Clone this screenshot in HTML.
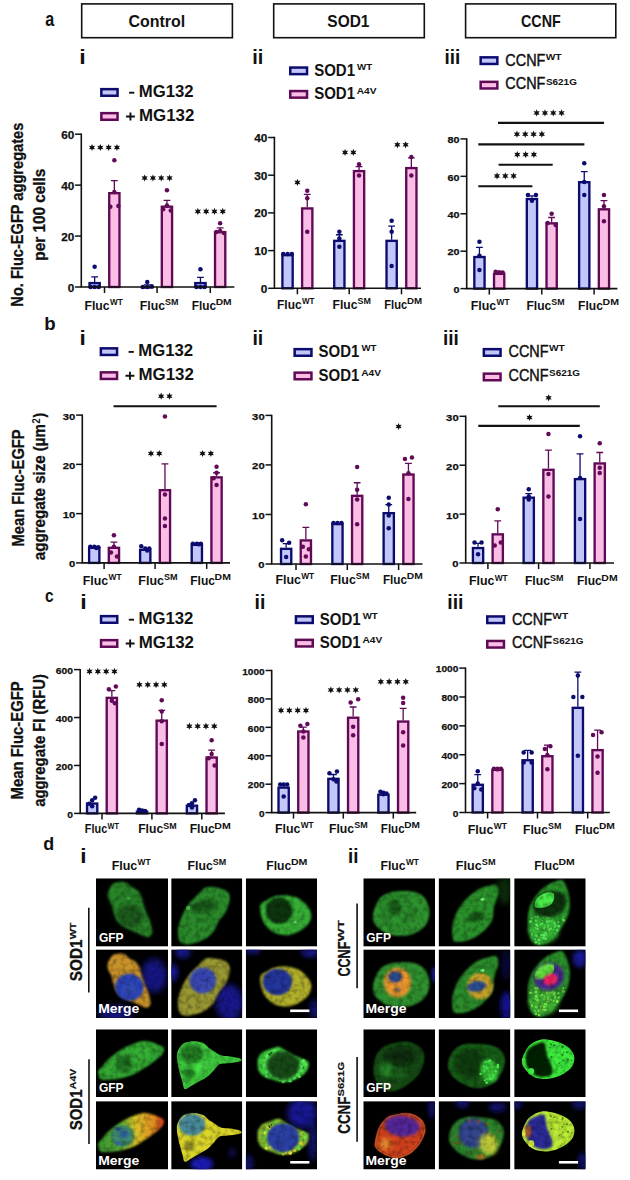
<!DOCTYPE html>
<html><head><meta charset="utf-8"><title>Figure</title>
<style>
html,body{margin:0;padding:0;background:#fff;}
body{width:630px;height:1180px;overflow:hidden;}
svg{display:block;font-family:"Liberation Sans", sans-serif;}
</style></head><body>
<svg width="630" height="1180" viewBox="0 0 630 1180">
<defs><filter id="b05" x="-50%" y="-50%" width="200%" height="200%"><feGaussianBlur stdDeviation="0.5"/></filter><filter id="b06" x="-50%" y="-50%" width="200%" height="200%"><feGaussianBlur stdDeviation="0.6"/></filter><filter id="b07" x="-50%" y="-50%" width="200%" height="200%"><feGaussianBlur stdDeviation="0.7"/></filter><filter id="b08" x="-50%" y="-50%" width="200%" height="200%"><feGaussianBlur stdDeviation="0.8"/></filter><filter id="b09" x="-50%" y="-50%" width="200%" height="200%"><feGaussianBlur stdDeviation="0.9"/></filter><filter id="b10" x="-50%" y="-50%" width="200%" height="200%"><feGaussianBlur stdDeviation="1"/></filter><filter id="b11" x="-50%" y="-50%" width="200%" height="200%"><feGaussianBlur stdDeviation="1.1"/></filter><filter id="b12" x="-50%" y="-50%" width="200%" height="200%"><feGaussianBlur stdDeviation="1.2"/></filter><filter id="b13" x="-50%" y="-50%" width="200%" height="200%"><feGaussianBlur stdDeviation="1.3"/></filter><filter id="b14" x="-50%" y="-50%" width="200%" height="200%"><feGaussianBlur stdDeviation="1.4"/></filter><filter id="b15" x="-50%" y="-50%" width="200%" height="200%"><feGaussianBlur stdDeviation="1.5"/></filter><filter id="b16" x="-50%" y="-50%" width="200%" height="200%"><feGaussianBlur stdDeviation="1.6"/></filter><filter id="b18" x="-50%" y="-50%" width="200%" height="200%"><feGaussianBlur stdDeviation="1.8"/></filter><filter id="b20" x="-50%" y="-50%" width="200%" height="200%"><feGaussianBlur stdDeviation="2"/></filter><filter id="b22" x="-50%" y="-50%" width="200%" height="200%"><feGaussianBlur stdDeviation="2.2"/></filter><filter id="b25" x="-50%" y="-50%" width="200%" height="200%"><feGaussianBlur stdDeviation="2.5"/></filter><filter id="b30" x="-50%" y="-50%" width="200%" height="200%"><feGaussianBlur stdDeviation="3"/></filter><linearGradient id="gA4" x1="0" y1="0" x2="1" y2="0"><stop offset="0" stop-color="#3a9a30"/><stop offset="0.35" stop-color="#5aa830"/><stop offset="0.55" stop-color="#d8c828"/><stop offset="0.85" stop-color="#e08a20"/><stop offset="1" stop-color="#e0381a"/></linearGradient><filter id="tex0" x="0" y="0" width="72" height="68.5" filterUnits="userSpaceOnUse" color-interpolation-filters="sRGB"><feTurbulence type="fractalNoise" baseFrequency="0.2" numOctaves="2" seed="3" result="n"/><feColorMatrix in="n" type="matrix" values="0.65 0 0 0 0.6  0.65 0 0 0 0.6  0.65 0 0 0 0.6  0 0 0 0 1" result="m0"/><feGaussianBlur in="m0" stdDeviation="0.45" result="m"/><feComposite in="SourceGraphic" in2="m" operator="arithmetic" k1="1" k2="0" k3="0" k4="0"/></filter><filter id="tex1" x="0" y="0" width="72" height="68.5" filterUnits="userSpaceOnUse" color-interpolation-filters="sRGB"><feTurbulence type="fractalNoise" baseFrequency="0.2" numOctaves="2" seed="10" result="n"/><feColorMatrix in="n" type="matrix" values="0.65 0 0 0 0.6  0.65 0 0 0 0.6  0.65 0 0 0 0.6  0 0 0 0 1" result="m0"/><feGaussianBlur in="m0" stdDeviation="0.45" result="m"/><feComposite in="SourceGraphic" in2="m" operator="arithmetic" k1="1" k2="0" k3="0" k4="0"/></filter><filter id="tex2" x="0" y="0" width="72" height="68.5" filterUnits="userSpaceOnUse" color-interpolation-filters="sRGB"><feTurbulence type="fractalNoise" baseFrequency="0.2" numOctaves="2" seed="17" result="n"/><feColorMatrix in="n" type="matrix" values="0.65 0 0 0 0.6  0.65 0 0 0 0.6  0.65 0 0 0 0.6  0 0 0 0 1" result="m0"/><feGaussianBlur in="m0" stdDeviation="0.45" result="m"/><feComposite in="SourceGraphic" in2="m" operator="arithmetic" k1="1" k2="0" k3="0" k4="0"/></filter><filter id="tex3" x="0" y="0" width="72" height="68.5" filterUnits="userSpaceOnUse" color-interpolation-filters="sRGB"><feTurbulence type="fractalNoise" baseFrequency="0.2" numOctaves="2" seed="24" result="n"/><feColorMatrix in="n" type="matrix" values="0.65 0 0 0 0.6  0.65 0 0 0 0.6  0.65 0 0 0 0.6  0 0 0 0 1" result="m0"/><feGaussianBlur in="m0" stdDeviation="0.45" result="m"/><feComposite in="SourceGraphic" in2="m" operator="arithmetic" k1="1" k2="0" k3="0" k4="0"/></filter></defs>
<rect width="630" height="1180" fill="#ffffff"/>
<rect x="81.7" y="3.9" width="150.7" height="33.8" fill="none" stroke="#111111" stroke-width="1.6"/>
<rect x="273.7" y="3.9" width="150.6" height="33.8" fill="none" stroke="#111111" stroke-width="1.6"/>
<rect x="465.6" y="3.9" width="150.2" height="33.8" fill="none" stroke="#111111" stroke-width="1.6"/>
<text x="128.44" y="26.6" font-size="17" font-weight="bold" fill="#111111" textLength="56.79" lengthAdjust="spacingAndGlyphs">Control</text>
<text x="327.35" y="26.6" font-size="17" font-weight="bold" fill="#111111" textLength="42.08" lengthAdjust="spacingAndGlyphs">SOD1</text>
<text x="521.01" y="26.6" font-size="17" font-weight="bold" fill="#111111" textLength="39.81" lengthAdjust="spacingAndGlyphs">CCNF</text>
<text x="45.23" y="25.9" font-size="19.3" font-weight="bold" fill="#111111" textLength="8.97" lengthAdjust="spacingAndGlyphs">a</text>
<text x="44.27" y="330.1" font-size="18.3" font-weight="bold" fill="#111111" textLength="11.39" lengthAdjust="spacingAndGlyphs">b</text>
<text x="44.89" y="601.7" font-size="18.2" font-weight="bold" fill="#111111" textLength="8.67" lengthAdjust="spacingAndGlyphs">c</text>
<text x="43.37" y="849.8" font-size="18.5" font-weight="bold" fill="#111111" textLength="10.91" lengthAdjust="spacingAndGlyphs">d</text>
<text x="79.37" y="64.2" font-size="20.7" font-weight="bold" fill="#111111" textLength="6.48" lengthAdjust="spacingAndGlyphs">i</text>
<text x="252.2" y="64.1" font-size="20.7" font-weight="bold" fill="#111111" textLength="11.11" lengthAdjust="spacingAndGlyphs">ii</text>
<text x="444.58" y="64.2" font-size="20.7" font-weight="bold" fill="#111111" textLength="15.76" lengthAdjust="spacingAndGlyphs">iii</text>
<text x="79.62" y="345.3" font-size="20.7" font-weight="bold" fill="#111111" textLength="6.28" lengthAdjust="spacingAndGlyphs">i</text>
<text x="252.44" y="345.3" font-size="20.7" font-weight="bold" fill="#111111" textLength="10.84" lengthAdjust="spacingAndGlyphs">ii</text>
<text x="443.08" y="345.3" font-size="20.7" font-weight="bold" fill="#111111" textLength="15.76" lengthAdjust="spacingAndGlyphs">iii</text>
<text x="80.27" y="609.3" font-size="20.7" font-weight="bold" fill="#111111" textLength="6.48" lengthAdjust="spacingAndGlyphs">i</text>
<text x="254.54" y="609.3" font-size="20.7" font-weight="bold" fill="#111111" textLength="10.84" lengthAdjust="spacingAndGlyphs">ii</text>
<text x="447.24" y="609.3" font-size="20.7" font-weight="bold" fill="#111111" textLength="16.24" lengthAdjust="spacingAndGlyphs">iii</text>
<text x="80.32" y="863.4" font-size="20.7" font-weight="bold" fill="#111111" textLength="6.28" lengthAdjust="spacingAndGlyphs">i</text>
<text x="347.99" y="863.4" font-size="20.7" font-weight="bold" fill="#111111" textLength="10.44" lengthAdjust="spacingAndGlyphs">ii</text>
<g transform="translate(0 0)">
<rect x="101.35" y="89.15" width="16.2" height="6.6" fill="#c3c6f8" stroke="#0c0c6e" stroke-width="2.5"/>
<rect x="101.35" y="113.15" width="16.2" height="6.6" fill="#fabde6" stroke="#600a56" stroke-width="2.5"/>
<path d="M129.1 92.7H134.3" stroke="#111111" stroke-width="1.9"/>
<text x="138.78" y="96.7" font-size="16.6" font-weight="bold" fill="#111111" textLength="54.89" lengthAdjust="spacingAndGlyphs">MG132</text>
<path d="M126 116.5H134.9M130.45 112.6V120.5" stroke="#111111" stroke-width="1.9"/>
<text x="138.97" y="121.1" font-size="16.6" font-weight="bold" fill="#111111" textLength="55.3" lengthAdjust="spacingAndGlyphs">MG132</text>
</g>
<g transform="translate(-0.5 259.2)">
<rect x="101.35" y="89.15" width="16.2" height="6.6" fill="#c3c6f8" stroke="#0c0c6e" stroke-width="2.5"/>
<rect x="101.35" y="113.15" width="16.2" height="6.6" fill="#fabde6" stroke="#600a56" stroke-width="2.5"/>
<path d="M129.1 92.7H134.3" stroke="#111111" stroke-width="1.9"/>
<text x="138.78" y="96.7" font-size="16.6" font-weight="bold" fill="#111111" textLength="54.89" lengthAdjust="spacingAndGlyphs">MG132</text>
<path d="M126 116.5H134.9M130.45 112.6V120.5" stroke="#111111" stroke-width="1.9"/>
<text x="138.97" y="121.1" font-size="16.6" font-weight="bold" fill="#111111" textLength="55.3" lengthAdjust="spacingAndGlyphs">MG132</text>
</g>
<g transform="translate(-0.3 527)">
<rect x="101.35" y="89.15" width="16.2" height="6.6" fill="#c3c6f8" stroke="#0c0c6e" stroke-width="2.5"/>
<rect x="101.35" y="113.15" width="16.2" height="6.6" fill="#fabde6" stroke="#600a56" stroke-width="2.5"/>
<path d="M129.1 92.7H134.3" stroke="#111111" stroke-width="1.9"/>
<text x="138.78" y="96.7" font-size="16.6" font-weight="bold" fill="#111111" textLength="54.89" lengthAdjust="spacingAndGlyphs">MG132</text>
<path d="M126 116.5H134.9M130.45 112.6V120.5" stroke="#111111" stroke-width="1.9"/>
<text x="138.97" y="121.1" font-size="16.6" font-weight="bold" fill="#111111" textLength="55.3" lengthAdjust="spacingAndGlyphs">MG132</text>
</g>
<g transform="translate(0 0)">
<rect x="290.25" y="67.55" width="16.8" height="6.6" fill="#c3c6f8" stroke="#0c0c6e" stroke-width="2.5"/>
<rect x="290.25" y="91.05" width="16.8" height="6.6" fill="#fabde6" stroke="#600a56" stroke-width="2.5"/>
<text x="314.17" y="75.9" font-size="16.3" font-weight="bold" fill="#111111" textLength="40.85" lengthAdjust="spacingAndGlyphs">SOD1</text>
<text x="314.17" y="99.4" font-size="16.3" font-weight="bold" fill="#111111" textLength="40.85" lengthAdjust="spacingAndGlyphs">SOD1</text>
<text x="356.99" y="69.8" font-size="9.3" font-weight="bold" fill="#111111" textLength="15.11" lengthAdjust="spacingAndGlyphs">WT</text>
<text x="356.75" y="94" font-size="9.3" font-weight="bold" fill="#111111" textLength="19.82" lengthAdjust="spacingAndGlyphs">A4V</text>
</g>
<g transform="translate(4.4 281.6)">
<rect x="290.25" y="67.55" width="16.8" height="6.6" fill="#c3c6f8" stroke="#0c0c6e" stroke-width="2.5"/>
<rect x="290.25" y="91.05" width="16.8" height="6.6" fill="#fabde6" stroke="#600a56" stroke-width="2.5"/>
<text x="314.17" y="75.9" font-size="16.3" font-weight="bold" fill="#111111" textLength="40.85" lengthAdjust="spacingAndGlyphs">SOD1</text>
<text x="314.17" y="99.4" font-size="16.3" font-weight="bold" fill="#111111" textLength="40.85" lengthAdjust="spacingAndGlyphs">SOD1</text>
<text x="356.99" y="69.8" font-size="9.3" font-weight="bold" fill="#111111" textLength="15.11" lengthAdjust="spacingAndGlyphs">WT</text>
<text x="356.75" y="94" font-size="9.3" font-weight="bold" fill="#111111" textLength="19.82" lengthAdjust="spacingAndGlyphs">A4V</text>
</g>
<g transform="translate(5.7 548.8)">
<rect x="290.25" y="67.55" width="16.8" height="6.6" fill="#c3c6f8" stroke="#0c0c6e" stroke-width="2.5"/>
<rect x="290.25" y="91.05" width="16.8" height="6.6" fill="#fabde6" stroke="#600a56" stroke-width="2.5"/>
<text x="314.17" y="75.9" font-size="16.3" font-weight="bold" fill="#111111" textLength="40.85" lengthAdjust="spacingAndGlyphs">SOD1</text>
<text x="314.17" y="99.4" font-size="16.3" font-weight="bold" fill="#111111" textLength="40.85" lengthAdjust="spacingAndGlyphs">SOD1</text>
<text x="356.99" y="69.8" font-size="9.3" font-weight="bold" fill="#111111" textLength="15.11" lengthAdjust="spacingAndGlyphs">WT</text>
<text x="356.75" y="94" font-size="9.3" font-weight="bold" fill="#111111" textLength="19.82" lengthAdjust="spacingAndGlyphs">A4V</text>
</g>
<g transform="translate(0 0)">
<rect x="480.65" y="57.35" width="16.7" height="6.6" fill="#c3c6f8" stroke="#0c0c6e" stroke-width="2.5"/>
<rect x="480.65" y="81.85" width="16.7" height="6.6" fill="#fabde6" stroke="#600a56" stroke-width="2.5"/>
<text x="505.37" y="65.7" font-size="16.3" font-weight="normal" fill="#111111" textLength="40.01" lengthAdjust="spacingAndGlyphs" stroke="#111" stroke-width="0.45">CCNF</text>
<text x="505.37" y="89.3" font-size="16.3" font-weight="normal" fill="#111111" textLength="40.01" lengthAdjust="spacingAndGlyphs" stroke="#111" stroke-width="0.45">CCNF</text>
<text x="545.69" y="59.6" font-size="9.3" font-weight="bold" fill="#111111" textLength="15.82" lengthAdjust="spacingAndGlyphs">WT</text>
<text x="545.91" y="84.6" font-size="9.3" font-weight="bold" fill="#111111" textLength="31" lengthAdjust="spacingAndGlyphs">S621G</text>
</g>
<g transform="translate(3.2 291.8)">
<rect x="480.65" y="57.35" width="16.7" height="6.6" fill="#c3c6f8" stroke="#0c0c6e" stroke-width="2.5"/>
<rect x="480.65" y="81.85" width="16.7" height="6.6" fill="#fabde6" stroke="#600a56" stroke-width="2.5"/>
<text x="505.37" y="65.7" font-size="16.3" font-weight="normal" fill="#111111" textLength="40.01" lengthAdjust="spacingAndGlyphs" stroke="#111" stroke-width="0.45">CCNF</text>
<text x="505.37" y="89.3" font-size="16.3" font-weight="normal" fill="#111111" textLength="40.01" lengthAdjust="spacingAndGlyphs" stroke="#111" stroke-width="0.45">CCNF</text>
<text x="545.69" y="59.6" font-size="9.3" font-weight="bold" fill="#111111" textLength="15.82" lengthAdjust="spacingAndGlyphs">WT</text>
<text x="545.91" y="84.6" font-size="9.3" font-weight="bold" fill="#111111" textLength="31" lengthAdjust="spacingAndGlyphs">S621G</text>
</g>
<g transform="translate(6.6 559.1)">
<rect x="480.65" y="57.35" width="16.7" height="6.6" fill="#c3c6f8" stroke="#0c0c6e" stroke-width="2.5"/>
<rect x="480.65" y="81.85" width="16.7" height="6.6" fill="#fabde6" stroke="#600a56" stroke-width="2.5"/>
<text x="505.37" y="65.7" font-size="16.3" font-weight="normal" fill="#111111" textLength="40.01" lengthAdjust="spacingAndGlyphs" stroke="#111" stroke-width="0.45">CCNF</text>
<text x="505.37" y="89.3" font-size="16.3" font-weight="normal" fill="#111111" textLength="40.01" lengthAdjust="spacingAndGlyphs" stroke="#111" stroke-width="0.45">CCNF</text>
<text x="545.69" y="59.6" font-size="9.3" font-weight="bold" fill="#111111" textLength="15.82" lengthAdjust="spacingAndGlyphs">WT</text>
<text x="545.91" y="84.6" font-size="9.3" font-weight="bold" fill="#111111" textLength="31" lengthAdjust="spacingAndGlyphs">S621G</text>
</g>
<g transform="translate(23.1 0) rotate(-90)">
<text x="-306.68" y="0" font-size="16.7" font-weight="bold" fill="#111111" textLength="183.97" lengthAdjust="spacingAndGlyphs" stroke="#111" stroke-width="0.3">No. Fluc-EGFP aggregates</text>
</g>
<g transform="translate(45 0) rotate(-90)">
<text x="-260.71" y="0" font-size="16" font-weight="bold" fill="#111111" textLength="92.04" lengthAdjust="spacingAndGlyphs" stroke="#111" stroke-width="0.3">per 100 cells</text>
</g>
<g transform="translate(24 0) rotate(-90)">
<text x="-546.49" y="0" font-size="16.7" font-weight="bold" fill="#111111" textLength="117.19" lengthAdjust="spacingAndGlyphs" stroke="#111" stroke-width="0.3">Mean Fluc-EGFP</text>
</g>
<g transform="translate(45.4 0) rotate(-90)">
<text x="-560.14" y="0" font-size="16" font-weight="bold" fill="#111111" textLength="136.08" lengthAdjust="spacingAndGlyphs" stroke="#111" stroke-width="0.3">aggregate size (µm</text>
<text x="-423.42" y="-5.5" font-size="10.2" font-weight="bold" fill="#111111" textLength="5.2" lengthAdjust="spacingAndGlyphs">2</text>
<text x="-417.61" y="0" font-size="16" font-weight="bold" fill="#111111" textLength="4.72" lengthAdjust="spacingAndGlyphs" stroke="#111" stroke-width="0.3">)</text>
</g>
<g transform="translate(23.1 0) rotate(-90)">
<text x="-799.39" y="0" font-size="16.7" font-weight="bold" fill="#111111" textLength="118.1" lengthAdjust="spacingAndGlyphs" stroke="#111" stroke-width="0.3">Mean Fluc-EGFP</text>
</g>
<g transform="translate(45.4 0) rotate(-90)">
<text x="-806.84" y="0" font-size="16" font-weight="bold" fill="#111111" textLength="132.88" lengthAdjust="spacingAndGlyphs" stroke="#111" stroke-width="0.3">aggregate FI (RFU)</text>
</g>
<path d="M94.65 281.91V276.81M91.25 276.81H98.05" stroke="#0c0c6e" stroke-width="1.3"/>
<rect x="89.53" y="283.08" width="10.25" height="3.92" fill="#c3c6f8" stroke="#0c0c6e" stroke-width="2.35"/>
<circle cx="94.65" cy="266.63" r="2.25" fill="#0c0c70"/>
<circle cx="90.65" cy="287" r="2.25" fill="#0c0c70"/>
<circle cx="94.65" cy="287" r="2.25" fill="#0c0c70"/>
<circle cx="98.65" cy="287" r="2.25" fill="#0c0c70"/>
<path d="M114.35 192.01V180.55M110.95 180.55H117.75" stroke="#600a56" stroke-width="1.3"/>
<rect x="109.22" y="193.18" width="10.25" height="93.82" fill="#fabde6" stroke="#600a56" stroke-width="2.35"/>
<circle cx="114.35" cy="160.18" r="2.25" fill="#620a58"/>
<circle cx="114.35" cy="192.01" r="2.25" fill="#620a58"/>
<circle cx="110.35" cy="206.78" r="2.25" fill="#620a58"/>
<circle cx="118.35" cy="206.02" r="2.25" fill="#620a58"/>
<path d="M147.25 286.24V284.96M143.85 284.96H150.65" stroke="#0c0c6e" stroke-width="1.3"/>
<rect x="142.12" y="287.41" width="10.25" height="0.1" fill="#c3c6f8" stroke="#0c0c6e" stroke-width="2.35"/>
<circle cx="147.25" cy="281.91" r="2.25" fill="#0c0c70"/>
<circle cx="142.75" cy="287" r="2.25" fill="#0c0c70"/>
<circle cx="147.25" cy="287" r="2.25" fill="#0c0c70"/>
<circle cx="151.75" cy="286.24" r="2.25" fill="#0c0c70"/>
<path d="M166.95 205.51V200.41M163.55 200.41H170.35" stroke="#600a56" stroke-width="1.3"/>
<rect x="161.82" y="206.68" width="10.25" height="80.32" fill="#fabde6" stroke="#600a56" stroke-width="2.35"/>
<circle cx="166.95" cy="190.23" r="2.25" fill="#620a58"/>
<circle cx="166.95" cy="205.51" r="2.25" fill="#620a58"/>
<circle cx="163.15" cy="209.33" r="2.25" fill="#620a58"/>
<circle cx="170.75" cy="210.6" r="2.25" fill="#620a58"/>
<path d="M200.45 281.91V277.32M197.05 277.32H203.85" stroke="#0c0c6e" stroke-width="1.3"/>
<rect x="195.33" y="283.08" width="10.25" height="3.92" fill="#c3c6f8" stroke="#0c0c6e" stroke-width="2.35"/>
<circle cx="200.45" cy="269.17" r="2.25" fill="#0c0c70"/>
<circle cx="196.45" cy="287" r="2.25" fill="#0c0c70"/>
<circle cx="200.45" cy="287" r="2.25" fill="#0c0c70"/>
<circle cx="204.45" cy="287" r="2.25" fill="#0c0c70"/>
<path d="M220.15 230.97V227.92M216.75 227.92H223.55" stroke="#600a56" stroke-width="1.3"/>
<rect x="215.03" y="232.15" width="10.25" height="54.85" fill="#fabde6" stroke="#600a56" stroke-width="2.35"/>
<circle cx="220.15" cy="223.33" r="2.25" fill="#620a58"/>
<circle cx="220.15" cy="230.97" r="2.25" fill="#620a58"/>
<circle cx="216.35" cy="231.99" r="2.25" fill="#620a58"/>
<circle cx="223.95" cy="233.01" r="2.25" fill="#620a58"/>
<path d="M81.3 133.5V287H234.4" stroke="#111111" stroke-width="1.6" fill="none"/>
<path d="M75.1 287H81.3" stroke="#111111" stroke-width="1.5"/>
<text x="67.76" y="291.55" font-size="10.2" font-weight="bold" fill="#111111" textLength="6.52" lengthAdjust="spacingAndGlyphs" stroke="#111" stroke-width="0.25">0</text>
<path d="M75.1 236.07H81.3" stroke="#111111" stroke-width="1.5"/>
<text x="61.23" y="240.62" font-size="10.2" font-weight="bold" fill="#111111" textLength="13.05" lengthAdjust="spacingAndGlyphs" stroke="#111" stroke-width="0.25">20</text>
<path d="M75.1 185.13H81.3" stroke="#111111" stroke-width="1.5"/>
<text x="61.23" y="189.68" font-size="10.2" font-weight="bold" fill="#111111" textLength="13.05" lengthAdjust="spacingAndGlyphs" stroke="#111" stroke-width="0.25">40</text>
<path d="M75.1 134.2H81.3" stroke="#111111" stroke-width="1.5"/>
<text x="61.23" y="138.75" font-size="10.2" font-weight="bold" fill="#111111" textLength="13.05" lengthAdjust="spacingAndGlyphs" stroke="#111" stroke-width="0.25">60</text>
<path d="M104.5 287V293" stroke="#111111" stroke-width="1.5"/>
<path d="M157.1 287V293" stroke="#111111" stroke-width="1.5"/>
<path d="M210.3 287V293" stroke="#111111" stroke-width="1.5"/>
<polygon points="92.05,143.9 91.17,145.98 88.93,145.7 90.3,147.5 88.93,149.3 91.17,149.02 92.05,151.1 92.92,149.02 95.17,149.3 93.8,147.5 95.17,145.7 92.92,145.98" fill="#111111"/>
<polygon points="100.35,143.9 99.47,145.98 97.23,145.7 98.6,147.5 97.23,149.3 99.47,149.02 100.35,151.1 101.22,149.02 103.47,149.3 102.1,147.5 103.47,145.7 101.22,145.98" fill="#111111"/>
<polygon points="108.65,143.9 107.78,145.98 105.53,145.7 106.9,147.5 105.53,149.3 107.78,149.02 108.65,151.1 109.53,149.02 111.77,149.3 110.4,147.5 111.77,145.7 109.53,145.98" fill="#111111"/>
<polygon points="116.95,143.9 116.08,145.98 113.83,145.7 115.2,147.5 113.83,149.3 116.08,149.02 116.95,151.1 117.83,149.02 120.07,149.3 118.7,147.5 120.07,145.7 117.83,145.98" fill="#111111"/>
<polygon points="144.65,174.4 143.78,176.48 141.53,176.2 142.9,178 141.53,179.8 143.78,179.52 144.65,181.6 145.53,179.52 147.77,179.8 146.4,178 147.77,176.2 145.53,176.48" fill="#111111"/>
<polygon points="152.95,174.4 152.08,176.48 149.83,176.2 151.2,178 149.83,179.8 152.08,179.52 152.95,181.6 153.83,179.52 156.07,179.8 154.7,178 156.07,176.2 153.83,176.48" fill="#111111"/>
<polygon points="161.25,174.4 160.38,176.48 158.13,176.2 159.5,178 158.13,179.8 160.38,179.52 161.25,181.6 162.12,179.52 164.37,179.8 163,178 164.37,176.2 162.12,176.48" fill="#111111"/>
<polygon points="169.55,174.4 168.68,176.48 166.43,176.2 167.8,178 166.43,179.8 168.68,179.52 169.55,181.6 170.43,179.52 172.67,179.8 171.3,178 172.67,176.2 170.43,176.48" fill="#111111"/>
<polygon points="197.85,207.8 196.98,209.88 194.73,209.6 196.1,211.4 194.73,213.2 196.98,212.92 197.85,215 198.73,212.92 200.97,213.2 199.6,211.4 200.97,209.6 198.73,209.88" fill="#111111"/>
<polygon points="206.15,207.8 205.28,209.88 203.03,209.6 204.4,211.4 203.03,213.2 205.28,212.92 206.15,215 207.03,212.92 209.27,213.2 207.9,211.4 209.27,209.6 207.03,209.88" fill="#111111"/>
<polygon points="214.45,207.8 213.58,209.88 211.33,209.6 212.7,211.4 211.33,213.2 213.58,212.92 214.45,215 215.33,212.92 217.57,213.2 216.2,211.4 217.57,209.6 215.33,209.88" fill="#111111"/>
<polygon points="222.75,207.8 221.88,209.88 219.63,209.6 221,211.4 219.63,213.2 221.88,212.92 222.75,215 223.63,212.92 225.87,213.2 224.5,211.4 225.87,209.6 223.63,209.88" fill="#111111"/>
<text x="84.48" y="309.7" font-size="13.2" font-weight="bold" fill="#111111" textLength="25.08" lengthAdjust="spacingAndGlyphs">Fluc</text>
<text x="109.89" y="305.1" font-size="8.4" font-weight="bold" fill="#111111" textLength="12.79" lengthAdjust="spacingAndGlyphs">WT</text>
<text x="139.78" y="309.7" font-size="13.2" font-weight="bold" fill="#111111" textLength="25.18" lengthAdjust="spacingAndGlyphs">Fluc</text>
<text x="165.04" y="305.1" font-size="8.4" font-weight="bold" fill="#111111" textLength="13.46" lengthAdjust="spacingAndGlyphs">SM</text>
<text x="191.71" y="309.7" font-size="13.2" font-weight="bold" fill="#111111" textLength="24.29" lengthAdjust="spacingAndGlyphs">Fluc</text>
<text x="215.67" y="305.1" font-size="8.4" font-weight="bold" fill="#111111" textLength="16.02" lengthAdjust="spacingAndGlyphs">DM</text>
<rect x="282.42" y="255.17" width="10.25" height="33.13" fill="#c3c6f8" stroke="#0c0c6e" stroke-width="2.35"/>
<circle cx="283.25" cy="253.99" r="2.25" fill="#0c0c70"/>
<circle cx="287.55" cy="253.99" r="2.25" fill="#0c0c70"/>
<circle cx="291.85" cy="253.99" r="2.25" fill="#0c0c70"/>
<path d="M307.25 207.25V194.43M303.85 194.43H310.65" stroke="#600a56" stroke-width="1.3"/>
<rect x="302.12" y="208.42" width="10.25" height="79.88" fill="#fabde6" stroke="#600a56" stroke-width="2.35"/>
<circle cx="307.25" cy="190.66" r="2.25" fill="#620a58"/>
<circle cx="307.25" cy="198.2" r="2.25" fill="#620a58"/>
<circle cx="307.25" cy="231.75" r="2.25" fill="#620a58"/>
<path d="M339.35 239.67V234.77M335.95 234.77H342.75" stroke="#0c0c6e" stroke-width="1.3"/>
<rect x="334.22" y="240.84" width="10.25" height="47.46" fill="#c3c6f8" stroke="#0c0c6e" stroke-width="2.35"/>
<circle cx="339.35" cy="231.75" r="2.25" fill="#0c0c70"/>
<circle cx="339.35" cy="238.54" r="2.25" fill="#0c0c70"/>
<circle cx="339.35" cy="246.83" r="2.25" fill="#0c0c70"/>
<path d="M359.05 169.92V166.53M355.65 166.53H362.45" stroke="#600a56" stroke-width="1.3"/>
<rect x="353.93" y="171.1" width="10.25" height="117.2" fill="#fabde6" stroke="#600a56" stroke-width="2.35"/>
<circle cx="359.05" cy="164.27" r="2.25" fill="#620a58"/>
<circle cx="359.05" cy="175.58" r="2.25" fill="#620a58"/>
<path d="M391.65 239.67V226.09M388.25 226.09H395.05" stroke="#0c0c6e" stroke-width="1.3"/>
<rect x="386.52" y="240.84" width="10.25" height="47.46" fill="#c3c6f8" stroke="#0c0c6e" stroke-width="2.35"/>
<circle cx="391.65" cy="220.82" r="2.25" fill="#0c0c70"/>
<circle cx="391.65" cy="231.75" r="2.25" fill="#0c0c70"/>
<circle cx="391.65" cy="266.06" r="2.25" fill="#0c0c70"/>
<path d="M411.35 166.91V157.86M407.95 157.86H414.75" stroke="#600a56" stroke-width="1.3"/>
<rect x="406.23" y="168.08" width="10.25" height="120.22" fill="#fabde6" stroke="#600a56" stroke-width="2.35"/>
<circle cx="411.35" cy="157.1" r="2.25" fill="#620a58"/>
<circle cx="411.35" cy="175.58" r="2.25" fill="#620a58"/>
<path d="M274.4 136.8V288.3H421" stroke="#111111" stroke-width="1.6" fill="none"/>
<path d="M268.2 288.3H274.4" stroke="#111111" stroke-width="1.5"/>
<text x="260.82" y="292.78" font-size="10" font-weight="bold" fill="#111111" textLength="6.56" lengthAdjust="spacingAndGlyphs" stroke="#111" stroke-width="0.25">0</text>
<path d="M268.2 250.6H274.4" stroke="#111111" stroke-width="1.5"/>
<text x="254.26" y="255.08" font-size="10" font-weight="bold" fill="#111111" textLength="13.13" lengthAdjust="spacingAndGlyphs" stroke="#111" stroke-width="0.25">10</text>
<path d="M268.2 212.9H274.4" stroke="#111111" stroke-width="1.5"/>
<text x="254.26" y="217.38" font-size="10" font-weight="bold" fill="#111111" textLength="13.13" lengthAdjust="spacingAndGlyphs" stroke="#111" stroke-width="0.25">20</text>
<path d="M268.2 175.2H274.4" stroke="#111111" stroke-width="1.5"/>
<text x="254.26" y="179.68" font-size="10" font-weight="bold" fill="#111111" textLength="13.13" lengthAdjust="spacingAndGlyphs" stroke="#111" stroke-width="0.25">30</text>
<path d="M268.2 137.5H274.4" stroke="#111111" stroke-width="1.5"/>
<text x="254.26" y="141.98" font-size="10" font-weight="bold" fill="#111111" textLength="13.13" lengthAdjust="spacingAndGlyphs" stroke="#111" stroke-width="0.25">40</text>
<path d="M297.4 288.3V294.3" stroke="#111111" stroke-width="1.5"/>
<path d="M349.2 288.3V294.3" stroke="#111111" stroke-width="1.5"/>
<path d="M401.5 288.3V294.3" stroke="#111111" stroke-width="1.5"/>
<polygon points="297.4,178.8 296.52,180.88 294.28,180.6 295.65,182.4 294.28,184.2 296.52,183.92 297.4,186 298.27,183.92 300.52,184.2 299.15,182.4 300.52,180.6 298.27,180.88" fill="#111111"/>
<polygon points="345.05,148.8 344.18,150.88 341.93,150.6 343.3,152.4 341.93,154.2 344.18,153.92 345.05,156 345.93,153.92 348.17,154.2 346.8,152.4 348.17,150.6 345.93,150.88" fill="#111111"/>
<polygon points="353.35,148.8 352.48,150.88 350.23,150.6 351.6,152.4 350.23,154.2 352.48,153.92 353.35,156 354.23,153.92 356.47,154.2 355.1,152.4 356.47,150.6 354.23,150.88" fill="#111111"/>
<polygon points="397.35,141.2 396.48,143.28 394.23,143 395.6,144.8 394.23,146.6 396.48,146.32 397.35,148.4 398.23,146.32 400.47,146.6 399.1,144.8 400.47,143 398.23,143.28" fill="#111111"/>
<polygon points="405.65,141.2 404.78,143.28 402.53,143 403.9,144.8 402.53,146.6 404.78,146.32 405.65,148.4 406.53,146.32 408.77,146.6 407.4,144.8 408.77,143 406.53,143.28" fill="#111111"/>
<text x="277.1" y="309" font-size="13.2" font-weight="bold" fill="#111111" textLength="24.45" lengthAdjust="spacingAndGlyphs">Fluc</text>
<text x="301.9" y="304.4" font-size="8.4" font-weight="bold" fill="#111111" textLength="12.49" lengthAdjust="spacingAndGlyphs">WT</text>
<text x="332.49" y="309" font-size="13.2" font-weight="bold" fill="#111111" textLength="24.9" lengthAdjust="spacingAndGlyphs">Fluc</text>
<text x="357.48" y="304.4" font-size="8.4" font-weight="bold" fill="#111111" textLength="13.31" lengthAdjust="spacingAndGlyphs">SM</text>
<text x="384.25" y="309" font-size="13.2" font-weight="bold" fill="#111111" textLength="22.93" lengthAdjust="spacingAndGlyphs">Fluc</text>
<text x="406.9" y="304.4" font-size="8.4" font-weight="bold" fill="#111111" textLength="15.15" lengthAdjust="spacingAndGlyphs">DM</text>
<path d="M479.45 255.85V247.43M476.05 247.43H482.85" stroke="#0c0c6e" stroke-width="1.3"/>
<rect x="474.32" y="257.03" width="10.25" height="31.57" fill="#c3c6f8" stroke="#0c0c6e" stroke-width="2.35"/>
<circle cx="479.45" cy="241.82" r="2.25" fill="#0c0c70"/>
<circle cx="479.45" cy="255.85" r="2.25" fill="#0c0c70"/>
<circle cx="479.45" cy="269.89" r="2.25" fill="#0c0c70"/>
<rect x="494.03" y="273.87" width="10.25" height="14.73" fill="#fabde6" stroke="#600a56" stroke-width="2.35"/>
<circle cx="495.65" cy="271.76" r="2.25" fill="#620a58"/>
<circle cx="499.15" cy="272.32" r="2.25" fill="#620a58"/>
<circle cx="502.65" cy="272.51" r="2.25" fill="#620a58"/>
<path d="M531.95 197.84V195.97M528.55 195.97H535.35" stroke="#0c0c6e" stroke-width="1.3"/>
<rect x="526.82" y="199.02" width="10.25" height="89.58" fill="#c3c6f8" stroke="#0c0c6e" stroke-width="2.35"/>
<circle cx="527.95" cy="195.04" r="2.25" fill="#0c0c70"/>
<circle cx="535.95" cy="195.04" r="2.25" fill="#0c0c70"/>
<circle cx="531.95" cy="200.65" r="2.25" fill="#0c0c70"/>
<path d="M551.65 222.17V217.49M548.25 217.49H555.05" stroke="#600a56" stroke-width="1.3"/>
<rect x="546.52" y="223.35" width="10.25" height="65.25" fill="#fabde6" stroke="#600a56" stroke-width="2.35"/>
<circle cx="551.65" cy="213.75" r="2.25" fill="#620a58"/>
<circle cx="547.65" cy="223.11" r="2.25" fill="#620a58"/>
<circle cx="555.65" cy="224.98" r="2.25" fill="#620a58"/>
<path d="M584.25 181V171.65M580.85 171.65H587.65" stroke="#0c0c6e" stroke-width="1.3"/>
<rect x="579.12" y="182.18" width="10.25" height="106.42" fill="#c3c6f8" stroke="#0c0c6e" stroke-width="2.35"/>
<circle cx="584.25" cy="163.23" r="2.25" fill="#0c0c70"/>
<circle cx="584.25" cy="181.94" r="2.25" fill="#0c0c70"/>
<circle cx="584.25" cy="195.04" r="2.25" fill="#0c0c70"/>
<path d="M603.95 208.14V200.65M600.55 200.65H607.35" stroke="#600a56" stroke-width="1.3"/>
<rect x="598.83" y="209.31" width="10.25" height="79.29" fill="#fabde6" stroke="#600a56" stroke-width="2.35"/>
<circle cx="603.95" cy="195.04" r="2.25" fill="#620a58"/>
<circle cx="603.95" cy="206.27" r="2.25" fill="#620a58"/>
<circle cx="603.95" cy="221.24" r="2.25" fill="#620a58"/>
<path d="M466.7 138.2V288.6H617.4" stroke="#111111" stroke-width="1.6" fill="none"/>
<path d="M460.5 288.6H466.7" stroke="#111111" stroke-width="1.5"/>
<text x="453.63" y="292.87" font-size="9.4" font-weight="bold" fill="#111111" textLength="6.01" lengthAdjust="spacingAndGlyphs" stroke="#111" stroke-width="0.25">0</text>
<path d="M460.5 251.18H466.7" stroke="#111111" stroke-width="1.5"/>
<text x="447.62" y="255.44" font-size="9.4" font-weight="bold" fill="#111111" textLength="12.02" lengthAdjust="spacingAndGlyphs" stroke="#111" stroke-width="0.25">20</text>
<path d="M460.5 213.75H466.7" stroke="#111111" stroke-width="1.5"/>
<text x="447.62" y="218.02" font-size="9.4" font-weight="bold" fill="#111111" textLength="12.02" lengthAdjust="spacingAndGlyphs" stroke="#111" stroke-width="0.25">40</text>
<path d="M460.5 176.32H466.7" stroke="#111111" stroke-width="1.5"/>
<text x="447.62" y="180.59" font-size="9.4" font-weight="bold" fill="#111111" textLength="12.02" lengthAdjust="spacingAndGlyphs" stroke="#111" stroke-width="0.25">60</text>
<path d="M460.5 138.9H466.7" stroke="#111111" stroke-width="1.5"/>
<text x="447.62" y="143.17" font-size="9.4" font-weight="bold" fill="#111111" textLength="12.02" lengthAdjust="spacingAndGlyphs" stroke="#111" stroke-width="0.25">80</text>
<path d="M489.3 288.6V294.6" stroke="#111111" stroke-width="1.5"/>
<path d="M541.8 288.6V294.6" stroke="#111111" stroke-width="1.5"/>
<path d="M594.1 288.6V294.6" stroke="#111111" stroke-width="1.5"/>
<path d="M478.3 186.3H532.4" stroke="#111111" stroke-width="2.1"/>
<polygon points="497,172.3 496.12,174.38 493.88,174.1 495.25,175.9 493.88,177.7 496.12,177.42 497,179.5 497.88,177.42 500.12,177.7 498.75,175.9 500.12,174.1 497.88,174.38" fill="#111111"/>
<polygon points="505.3,172.3 504.43,174.38 502.18,174.1 503.55,175.9 502.18,177.7 504.43,177.42 505.3,179.5 506.18,177.42 508.42,177.7 507.05,175.9 508.42,174.1 506.18,174.38" fill="#111111"/>
<polygon points="513.6,172.3 512.73,174.38 510.48,174.1 511.85,175.9 510.48,177.7 512.73,177.42 513.6,179.5 514.48,177.42 516.72,177.7 515.35,175.9 516.72,174.1 514.48,174.38" fill="#111111"/>
<path d="M498.6 164.7H552.7" stroke="#111111" stroke-width="2.1"/>
<polygon points="517.3,151 516.43,153.08 514.18,152.8 515.55,154.6 514.18,156.4 516.43,156.12 517.3,158.2 518.18,156.12 520.42,156.4 519.05,154.6 520.42,152.8 518.18,153.08" fill="#111111"/>
<polygon points="525.6,151 524.73,153.08 522.48,152.8 523.85,154.6 522.48,156.4 524.73,156.12 525.6,158.2 526.48,156.12 528.72,156.4 527.35,154.6 528.72,152.8 526.48,153.08" fill="#111111"/>
<polygon points="533.9,151 533.03,153.08 530.78,152.8 532.15,154.6 530.78,156.4 533.03,156.12 533.9,158.2 534.78,156.12 537.02,156.4 535.65,154.6 537.02,152.8 534.78,153.08" fill="#111111"/>
<path d="M478.3 144.4H584.4" stroke="#111111" stroke-width="2.1"/>
<polygon points="516.95,130.6 516.07,132.68 513.83,132.4 515.2,134.2 513.83,136 516.07,135.72 516.95,137.8 517.82,135.72 520.07,136 518.7,134.2 520.07,132.4 517.82,132.68" fill="#111111"/>
<polygon points="525.25,130.6 524.37,132.68 522.13,132.4 523.5,134.2 522.13,136 524.37,135.72 525.25,137.8 526.12,135.72 528.37,136 527,134.2 528.37,132.4 526.12,132.68" fill="#111111"/>
<polygon points="533.55,130.6 532.67,132.68 530.43,132.4 531.8,134.2 530.43,136 532.67,135.72 533.55,137.8 534.42,135.72 536.67,136 535.3,134.2 536.67,132.4 534.42,132.68" fill="#111111"/>
<polygon points="541.85,130.6 540.97,132.68 538.73,132.4 540.1,134.2 538.73,136 540.97,135.72 541.85,137.8 542.72,135.72 544.97,136 543.6,134.2 544.97,132.4 542.72,132.68" fill="#111111"/>
<path d="M498 122.9H604" stroke="#111111" stroke-width="2.1"/>
<polygon points="536.65,109.3 535.77,111.38 533.53,111.1 534.9,112.9 533.53,114.7 535.77,114.42 536.65,116.5 537.52,114.42 539.77,114.7 538.4,112.9 539.77,111.1 537.52,111.38" fill="#111111"/>
<polygon points="544.95,109.3 544.07,111.38 541.83,111.1 543.2,112.9 541.83,114.7 544.07,114.42 544.95,116.5 545.82,114.42 548.07,114.7 546.7,112.9 548.07,111.1 545.82,111.38" fill="#111111"/>
<polygon points="553.25,109.3 552.38,111.38 550.13,111.1 551.5,112.9 550.13,114.7 552.38,114.42 553.25,116.5 554.12,114.42 556.37,114.7 555,112.9 556.37,111.1 554.12,111.38" fill="#111111"/>
<polygon points="561.55,109.3 560.67,111.38 558.43,111.1 559.8,112.9 558.43,114.7 560.67,114.42 561.55,116.5 562.42,114.42 564.67,114.7 563.3,112.9 564.67,111.1 562.42,111.38" fill="#111111"/>
<text x="470.67" y="309.7" font-size="13.2" font-weight="bold" fill="#111111" textLength="25.56" lengthAdjust="spacingAndGlyphs">Fluc</text>
<text x="496.56" y="305.1" font-size="8.4" font-weight="bold" fill="#111111" textLength="13.03" lengthAdjust="spacingAndGlyphs">WT</text>
<text x="526.49" y="309.7" font-size="13.2" font-weight="bold" fill="#111111" textLength="24.76" lengthAdjust="spacingAndGlyphs">Fluc</text>
<text x="551.35" y="305.1" font-size="8.4" font-weight="bold" fill="#111111" textLength="13.24" lengthAdjust="spacingAndGlyphs">SM</text>
<text x="578.09" y="309.7" font-size="13.2" font-weight="bold" fill="#111111" textLength="24.81" lengthAdjust="spacingAndGlyphs">Fluc</text>
<text x="602.55" y="305.1" font-size="8.4" font-weight="bold" fill="#111111" textLength="16.35" lengthAdjust="spacingAndGlyphs">DM</text>
<rect x="89.12" y="547.82" width="10.25" height="15.08" fill="#c3c6f8" stroke="#0c0c6e" stroke-width="2.35"/>
<circle cx="90.25" cy="546.64" r="2.25" fill="#0c0c70"/>
<circle cx="94.25" cy="546.64" r="2.25" fill="#0c0c70"/>
<circle cx="98.25" cy="547.13" r="2.25" fill="#0c0c70"/>
<circle cx="96.25" cy="548.12" r="2.25" fill="#0c0c70"/>
<path d="M113.95 546.64V542.21M110.55 542.21H117.35" stroke="#600a56" stroke-width="1.3"/>
<rect x="108.82" y="547.82" width="10.25" height="15.08" fill="#fabde6" stroke="#600a56" stroke-width="2.35"/>
<circle cx="113.95" cy="535.31" r="2.25" fill="#620a58"/>
<circle cx="113.95" cy="546.64" r="2.25" fill="#620a58"/>
<circle cx="110.95" cy="552.55" r="2.25" fill="#620a58"/>
<circle cx="116.95" cy="556.5" r="2.25" fill="#620a58"/>
<rect x="140.12" y="549.79" width="10.25" height="13.11" fill="#c3c6f8" stroke="#0c0c6e" stroke-width="2.35"/>
<circle cx="141.25" cy="546.15" r="2.25" fill="#0c0c70"/>
<circle cx="145.25" cy="548.61" r="2.25" fill="#0c0c70"/>
<circle cx="149.25" cy="548.61" r="2.25" fill="#0c0c70"/>
<circle cx="147.25" cy="550.58" r="2.25" fill="#0c0c70"/>
<path d="M164.95 489V463.87M161.55 463.87H168.35" stroke="#600a56" stroke-width="1.3"/>
<rect x="159.82" y="490.18" width="10.25" height="72.72" fill="#fabde6" stroke="#600a56" stroke-width="2.35"/>
<circle cx="164.95" cy="416.58" r="2.25" fill="#620a58"/>
<circle cx="164.95" cy="494.42" r="2.25" fill="#620a58"/>
<circle cx="164.95" cy="518.56" r="2.25" fill="#620a58"/>
<circle cx="164.95" cy="525.95" r="2.25" fill="#620a58"/>
<rect x="191.72" y="544.86" width="10.25" height="18.04" fill="#c3c6f8" stroke="#0c0c6e" stroke-width="2.35"/>
<circle cx="192.85" cy="543.69" r="2.25" fill="#0c0c70"/>
<circle cx="196.85" cy="543.69" r="2.25" fill="#0c0c70"/>
<circle cx="200.85" cy="543.69" r="2.25" fill="#0c0c70"/>
<circle cx="198.85" cy="544.18" r="2.25" fill="#0c0c70"/>
<path d="M216.55 476.19V472.74M213.15 472.74H219.95" stroke="#600a56" stroke-width="1.3"/>
<rect x="211.42" y="477.37" width="10.25" height="85.53" fill="#fabde6" stroke="#600a56" stroke-width="2.35"/>
<circle cx="216.55" cy="466.83" r="2.25" fill="#620a58"/>
<circle cx="216.55" cy="472.74" r="2.25" fill="#620a58"/>
<circle cx="213.55" cy="478.16" r="2.25" fill="#620a58"/>
<circle cx="216.55" cy="485.06" r="2.25" fill="#620a58"/>
<path d="M82.3 414.4V562.9H230" stroke="#111111" stroke-width="1.6" fill="none"/>
<path d="M76.1 562.9H82.3" stroke="#111111" stroke-width="1.5"/>
<text x="68.99" y="567.31" font-size="9.8" font-weight="bold" fill="#111111" textLength="6.27" lengthAdjust="spacingAndGlyphs" stroke="#111" stroke-width="0.25">0</text>
<path d="M76.1 513.63H82.3" stroke="#111111" stroke-width="1.5"/>
<text x="62.73" y="518.04" font-size="9.8" font-weight="bold" fill="#111111" textLength="12.54" lengthAdjust="spacingAndGlyphs" stroke="#111" stroke-width="0.25">10</text>
<path d="M76.1 464.37H82.3" stroke="#111111" stroke-width="1.5"/>
<text x="62.73" y="468.78" font-size="9.8" font-weight="bold" fill="#111111" textLength="12.54" lengthAdjust="spacingAndGlyphs" stroke="#111" stroke-width="0.25">20</text>
<path d="M76.1 415.1H82.3" stroke="#111111" stroke-width="1.5"/>
<text x="62.73" y="419.51" font-size="9.8" font-weight="bold" fill="#111111" textLength="12.54" lengthAdjust="spacingAndGlyphs" stroke="#111" stroke-width="0.25">30</text>
<path d="M104.1 562.9V568.9" stroke="#111111" stroke-width="1.5"/>
<path d="M155.1 562.9V568.9" stroke="#111111" stroke-width="1.5"/>
<path d="M206.7 562.9V568.9" stroke="#111111" stroke-width="1.5"/>
<polygon points="150.95,449.9 150.07,451.98 147.83,451.7 149.2,453.5 147.83,455.3 150.07,455.02 150.95,457.1 151.82,455.02 154.07,455.3 152.7,453.5 154.07,451.7 151.82,451.98" fill="#111111"/>
<polygon points="159.25,449.9 158.38,451.98 156.13,451.7 157.5,453.5 156.13,455.3 158.38,455.02 159.25,457.1 160.12,455.02 162.37,455.3 161,453.5 162.37,451.7 160.12,451.98" fill="#111111"/>
<polygon points="202.55,449.9 201.67,451.98 199.43,451.7 200.8,453.5 199.43,455.3 201.67,455.02 202.55,457.1 203.42,455.02 205.67,455.3 204.3,453.5 205.67,451.7 203.42,451.98" fill="#111111"/>
<polygon points="210.85,449.9 209.97,451.98 207.73,451.7 209.1,453.5 207.73,455.3 209.97,455.02 210.85,457.1 211.72,455.02 213.97,455.3 212.6,453.5 213.97,451.7 211.72,451.98" fill="#111111"/>
<path d="M113.5 406.3H216.6" stroke="#111111" stroke-width="2.1"/>
<polygon points="161.15,392.6 160.28,394.68 158.03,394.4 159.4,396.2 158.03,398 160.28,397.72 161.15,399.8 162.03,397.72 164.27,398 162.9,396.2 164.27,394.4 162.03,394.68" fill="#111111"/>
<polygon points="169.45,392.6 168.58,394.68 166.33,394.4 167.7,396.2 166.33,398 168.58,397.72 169.45,399.8 170.33,397.72 172.57,398 171.2,396.2 172.57,394.4 170.33,394.68" fill="#111111"/>
<text x="82.77" y="584.7" font-size="13.2" font-weight="bold" fill="#111111" textLength="25.42" lengthAdjust="spacingAndGlyphs">Fluc</text>
<text x="108.52" y="580.1" font-size="8.4" font-weight="bold" fill="#111111" textLength="12.97" lengthAdjust="spacingAndGlyphs">WT</text>
<text x="138.37" y="584.7" font-size="13.2" font-weight="bold" fill="#111111" textLength="25.53" lengthAdjust="spacingAndGlyphs">Fluc</text>
<text x="163.97" y="580.1" font-size="8.4" font-weight="bold" fill="#111111" textLength="13.64" lengthAdjust="spacingAndGlyphs">SM</text>
<text x="190.19" y="584.7" font-size="13.2" font-weight="bold" fill="#111111" textLength="24.75" lengthAdjust="spacingAndGlyphs">Fluc</text>
<text x="214.59" y="580.1" font-size="8.4" font-weight="bold" fill="#111111" textLength="16.31" lengthAdjust="spacingAndGlyphs">DM</text>
<path d="M286.15 547.65V543.69M282.75 543.69H289.55" stroke="#0c0c6e" stroke-width="1.3"/>
<rect x="281.02" y="548.83" width="10.25" height="15.17" fill="#c3c6f8" stroke="#0c0c6e" stroke-width="2.35"/>
<circle cx="282.15" cy="540.22" r="2.25" fill="#0c0c70"/>
<circle cx="289.15" cy="542.7" r="2.25" fill="#0c0c70"/>
<circle cx="286.15" cy="557.07" r="2.25" fill="#0c0c70"/>
<path d="M305.85 539.23V527.35M302.45 527.35H309.25" stroke="#600a56" stroke-width="1.3"/>
<rect x="300.73" y="540.41" width="10.25" height="23.59" fill="#fabde6" stroke="#600a56" stroke-width="2.35"/>
<circle cx="305.85" cy="504.26" r="2.25" fill="#620a58"/>
<circle cx="302.85" cy="546.66" r="2.25" fill="#620a58"/>
<circle cx="308.85" cy="549.14" r="2.25" fill="#620a58"/>
<circle cx="305.85" cy="556.57" r="2.25" fill="#620a58"/>
<rect x="332.32" y="524.06" width="10.25" height="39.94" fill="#c3c6f8" stroke="#0c0c6e" stroke-width="2.35"/>
<circle cx="333.45" cy="522.89" r="2.25" fill="#0c0c70"/>
<circle cx="337.45" cy="522.89" r="2.25" fill="#0c0c70"/>
<circle cx="341.45" cy="522.89" r="2.25" fill="#0c0c70"/>
<path d="M357.15 494.65V482.77M353.75 482.77H360.55" stroke="#600a56" stroke-width="1.3"/>
<rect x="352.03" y="495.83" width="10.25" height="68.17" fill="#fabde6" stroke="#600a56" stroke-width="2.35"/>
<circle cx="357.15" cy="466.91" r="2.25" fill="#620a58"/>
<circle cx="357.15" cy="489.7" r="2.25" fill="#620a58"/>
<circle cx="357.15" cy="499.61" r="2.25" fill="#620a58"/>
<circle cx="357.15" cy="524.37" r="2.25" fill="#620a58"/>
<path d="M388.75 511.99V504.56M385.35 504.56H392.15" stroke="#0c0c6e" stroke-width="1.3"/>
<rect x="383.62" y="513.16" width="10.25" height="50.83" fill="#c3c6f8" stroke="#0c0c6e" stroke-width="2.35"/>
<circle cx="388.75" cy="497.63" r="2.25" fill="#0c0c70"/>
<circle cx="388.75" cy="504.56" r="2.25" fill="#0c0c70"/>
<circle cx="388.75" cy="515.46" r="2.25" fill="#0c0c70"/>
<circle cx="388.75" cy="528.34" r="2.25" fill="#0c0c70"/>
<path d="M408.45 473.35V463.45M405.05 463.45H411.85" stroke="#600a56" stroke-width="1.3"/>
<rect x="403.33" y="474.53" width="10.25" height="89.47" fill="#fabde6" stroke="#600a56" stroke-width="2.35"/>
<circle cx="404.95" cy="458.99" r="2.25" fill="#620a58"/>
<circle cx="411.95" cy="457.5" r="2.25" fill="#620a58"/>
<circle cx="408.45" cy="473.35" r="2.25" fill="#620a58"/>
<circle cx="408.45" cy="499.11" r="2.25" fill="#620a58"/>
<path d="M271.7 414.7V564H422.5" stroke="#111111" stroke-width="1.6" fill="none"/>
<path d="M265.5 564H271.7" stroke="#111111" stroke-width="1.5"/>
<text x="258.39" y="568.41" font-size="9.8" font-weight="bold" fill="#111111" textLength="6.27" lengthAdjust="spacingAndGlyphs" stroke="#111" stroke-width="0.25">0</text>
<path d="M265.5 514.47H271.7" stroke="#111111" stroke-width="1.5"/>
<text x="252.13" y="518.88" font-size="9.8" font-weight="bold" fill="#111111" textLength="12.54" lengthAdjust="spacingAndGlyphs" stroke="#111" stroke-width="0.25">10</text>
<path d="M265.5 464.93H271.7" stroke="#111111" stroke-width="1.5"/>
<text x="252.13" y="469.34" font-size="9.8" font-weight="bold" fill="#111111" textLength="12.54" lengthAdjust="spacingAndGlyphs" stroke="#111" stroke-width="0.25">20</text>
<path d="M265.5 415.4H271.7" stroke="#111111" stroke-width="1.5"/>
<text x="252.13" y="419.81" font-size="9.8" font-weight="bold" fill="#111111" textLength="12.54" lengthAdjust="spacingAndGlyphs" stroke="#111" stroke-width="0.25">30</text>
<path d="M296 564V570" stroke="#111111" stroke-width="1.5"/>
<path d="M347.3 564V570" stroke="#111111" stroke-width="1.5"/>
<path d="M398.6 564V570" stroke="#111111" stroke-width="1.5"/>
<polygon points="398.6,422.9 397.73,424.98 395.48,424.7 396.85,426.5 395.48,428.3 397.73,428.02 398.6,430.1 399.48,428.02 401.72,428.3 400.35,426.5 401.72,424.7 399.48,424.98" fill="#111111"/>
<text x="275.47" y="583.6" font-size="13.2" font-weight="bold" fill="#111111" textLength="25.42" lengthAdjust="spacingAndGlyphs">Fluc</text>
<text x="301.22" y="579" font-size="8.4" font-weight="bold" fill="#111111" textLength="12.97" lengthAdjust="spacingAndGlyphs">WT</text>
<text x="330.27" y="583.6" font-size="13.2" font-weight="bold" fill="#111111" textLength="25.53" lengthAdjust="spacingAndGlyphs">Fluc</text>
<text x="355.87" y="579" font-size="8.4" font-weight="bold" fill="#111111" textLength="13.64" lengthAdjust="spacingAndGlyphs">SM</text>
<text x="382.91" y="583.6" font-size="13.2" font-weight="bold" fill="#111111" textLength="24.16" lengthAdjust="spacingAndGlyphs">Fluc</text>
<text x="406.75" y="579" font-size="8.4" font-weight="bold" fill="#111111" textLength="15.94" lengthAdjust="spacingAndGlyphs">DM</text>
<path d="M478.05 546.86V543.44M474.65 543.44H481.45" stroke="#0c0c6e" stroke-width="1.3"/>
<rect x="472.92" y="548.04" width="10.25" height="14.96" fill="#c3c6f8" stroke="#0c0c6e" stroke-width="2.35"/>
<circle cx="474.55" cy="542.46" r="2.25" fill="#0c0c70"/>
<circle cx="481.55" cy="542.46" r="2.25" fill="#0c0c70"/>
<circle cx="478.05" cy="554.2" r="2.25" fill="#0c0c70"/>
<path d="M497.75 533.17V520.95M494.35 520.95H501.15" stroke="#600a56" stroke-width="1.3"/>
<rect x="492.62" y="534.35" width="10.25" height="28.65" fill="#fabde6" stroke="#600a56" stroke-width="2.35"/>
<circle cx="497.75" cy="509.21" r="2.25" fill="#620a58"/>
<circle cx="500.75" cy="542.46" r="2.25" fill="#620a58"/>
<circle cx="494.75" cy="545.4" r="2.25" fill="#620a58"/>
<path d="M528.75 496.5V493.56M525.35 493.56H532.15" stroke="#0c0c6e" stroke-width="1.3"/>
<rect x="523.62" y="497.67" width="10.25" height="65.33" fill="#c3c6f8" stroke="#0c0c6e" stroke-width="2.35"/>
<circle cx="528.75" cy="489.16" r="2.25" fill="#0c0c70"/>
<circle cx="528.75" cy="496.5" r="2.25" fill="#0c0c70"/>
<circle cx="528.75" cy="499.43" r="2.25" fill="#0c0c70"/>
<path d="M548.45 468.62V450.04M545.05 450.04H551.85" stroke="#600a56" stroke-width="1.3"/>
<rect x="543.33" y="469.8" width="10.25" height="93.2" fill="#fabde6" stroke="#600a56" stroke-width="2.35"/>
<circle cx="548.45" cy="433.9" r="2.25" fill="#620a58"/>
<circle cx="548.45" cy="474" r="2.25" fill="#620a58"/>
<circle cx="548.45" cy="496.5" r="2.25" fill="#620a58"/>
<path d="M580.05 477.91V453.95M576.65 453.95H583.45" stroke="#0c0c6e" stroke-width="1.3"/>
<rect x="574.92" y="479.09" width="10.25" height="83.91" fill="#c3c6f8" stroke="#0c0c6e" stroke-width="2.35"/>
<circle cx="580.05" cy="436.35" r="2.25" fill="#0c0c70"/>
<circle cx="580.05" cy="477.91" r="2.25" fill="#0c0c70"/>
<circle cx="580.05" cy="518.99" r="2.25" fill="#0c0c70"/>
<path d="M599.75 462.27V452.49M596.35 452.49H603.15" stroke="#600a56" stroke-width="1.3"/>
<rect x="594.62" y="463.44" width="10.25" height="99.56" fill="#fabde6" stroke="#600a56" stroke-width="2.35"/>
<circle cx="599.75" cy="443.19" r="2.25" fill="#620a58"/>
<circle cx="599.75" cy="467.64" r="2.25" fill="#620a58"/>
<circle cx="599.75" cy="473.02" r="2.25" fill="#620a58"/>
<path d="M465.7 415.6V563H614" stroke="#111111" stroke-width="1.6" fill="none"/>
<path d="M459.5 563H465.7" stroke="#111111" stroke-width="1.5"/>
<text x="452.39" y="567.41" font-size="9.8" font-weight="bold" fill="#111111" textLength="6.27" lengthAdjust="spacingAndGlyphs" stroke="#111" stroke-width="0.25">0</text>
<path d="M459.5 514.1H465.7" stroke="#111111" stroke-width="1.5"/>
<text x="446.13" y="518.51" font-size="9.8" font-weight="bold" fill="#111111" textLength="12.54" lengthAdjust="spacingAndGlyphs" stroke="#111" stroke-width="0.25">10</text>
<path d="M459.5 465.2H465.7" stroke="#111111" stroke-width="1.5"/>
<text x="446.13" y="469.61" font-size="9.8" font-weight="bold" fill="#111111" textLength="12.54" lengthAdjust="spacingAndGlyphs" stroke="#111" stroke-width="0.25">20</text>
<path d="M459.5 416.3H465.7" stroke="#111111" stroke-width="1.5"/>
<text x="446.13" y="420.71" font-size="9.8" font-weight="bold" fill="#111111" textLength="12.54" lengthAdjust="spacingAndGlyphs" stroke="#111" stroke-width="0.25">30</text>
<path d="M487.9 563V569" stroke="#111111" stroke-width="1.5"/>
<path d="M538.6 563V569" stroke="#111111" stroke-width="1.5"/>
<path d="M589.9 563V569" stroke="#111111" stroke-width="1.5"/>
<path d="M478.3 425.9H579.8" stroke="#111111" stroke-width="2.1"/>
<polygon points="529.5,413.9 528.62,415.98 526.38,415.7 527.75,417.5 526.38,419.3 528.62,419.02 529.5,421.1 530.38,419.02 532.62,419.3 531.25,417.5 532.62,415.7 530.38,415.98" fill="#111111"/>
<path d="M498.3 406.2H599.8" stroke="#111111" stroke-width="2.1"/>
<polygon points="548.6,394.2 547.73,396.28 545.48,396 546.85,397.8 545.48,399.6 547.73,399.32 548.6,401.4 549.48,399.32 551.72,399.6 550.35,397.8 551.72,396 549.48,396.28" fill="#111111"/>
<text x="468.97" y="585.4" font-size="13.2" font-weight="bold" fill="#111111" textLength="25.42" lengthAdjust="spacingAndGlyphs">Fluc</text>
<text x="494.72" y="580.8" font-size="8.4" font-weight="bold" fill="#111111" textLength="12.97" lengthAdjust="spacingAndGlyphs">WT</text>
<text x="524.88" y="585.4" font-size="13.2" font-weight="bold" fill="#111111" textLength="25.11" lengthAdjust="spacingAndGlyphs">Fluc</text>
<text x="550.08" y="580.8" font-size="8.4" font-weight="bold" fill="#111111" textLength="13.42" lengthAdjust="spacingAndGlyphs">SM</text>
<text x="577" y="585.4" font-size="13.2" font-weight="bold" fill="#111111" textLength="24.68" lengthAdjust="spacingAndGlyphs">Fluc</text>
<text x="601.33" y="580.8" font-size="8.4" font-weight="bold" fill="#111111" textLength="16.27" lengthAdjust="spacingAndGlyphs">DM</text>
<rect x="87.03" y="803.55" width="10.25" height="9.85" fill="#c3c6f8" stroke="#0c0c6e" stroke-width="2.35"/>
<circle cx="95.15" cy="797.82" r="2.25" fill="#0c0c70"/>
<circle cx="92.15" cy="800.22" r="2.25" fill="#0c0c70"/>
<circle cx="89.15" cy="803.81" r="2.25" fill="#0c0c70"/>
<circle cx="92.15" cy="806.21" r="2.25" fill="#0c0c70"/>
<path d="M111.85 696.68V690.69M108.45 690.69H115.25" stroke="#600a56" stroke-width="1.3"/>
<rect x="106.72" y="697.86" width="10.25" height="115.54" fill="#fabde6" stroke="#600a56" stroke-width="2.35"/>
<circle cx="115.85" cy="686.38" r="2.25" fill="#620a58"/>
<circle cx="108.85" cy="689.25" r="2.25" fill="#620a58"/>
<circle cx="111.85" cy="700.76" r="2.25" fill="#620a58"/>
<circle cx="114.85" cy="703.15" r="2.25" fill="#620a58"/>
<rect x="136.93" y="811.7" width="10.25" height="1.7" fill="#c3c6f8" stroke="#0c0c6e" stroke-width="2.35"/>
<circle cx="139.05" cy="809.8" r="2.25" fill="#0c0c70"/>
<circle cx="142.05" cy="810.52" r="2.25" fill="#0c0c70"/>
<circle cx="145.05" cy="811" r="2.25" fill="#0c0c70"/>
<circle cx="142.05" cy="811.48" r="2.25" fill="#0c0c70"/>
<path d="M161.75 719.45V710.34M158.35 710.34H165.15" stroke="#600a56" stroke-width="1.3"/>
<rect x="156.62" y="720.63" width="10.25" height="92.77" fill="#fabde6" stroke="#600a56" stroke-width="2.35"/>
<circle cx="161.75" cy="700.28" r="2.25" fill="#620a58"/>
<circle cx="161.75" cy="711.54" r="2.25" fill="#620a58"/>
<circle cx="161.75" cy="721.13" r="2.25" fill="#620a58"/>
<circle cx="161.75" cy="743.9" r="2.25" fill="#620a58"/>
<rect x="186.83" y="805.71" width="10.25" height="7.69" fill="#c3c6f8" stroke="#0c0c6e" stroke-width="2.35"/>
<circle cx="194.95" cy="800.22" r="2.25" fill="#0c0c70"/>
<circle cx="191.95" cy="803.33" r="2.25" fill="#0c0c70"/>
<circle cx="188.95" cy="805.01" r="2.25" fill="#0c0c70"/>
<circle cx="191.95" cy="807.41" r="2.25" fill="#0c0c70"/>
<path d="M211.65 756.36V750.13M208.25 750.13H215.05" stroke="#600a56" stroke-width="1.3"/>
<rect x="206.53" y="757.53" width="10.25" height="55.87" fill="#fabde6" stroke="#600a56" stroke-width="2.35"/>
<circle cx="211.65" cy="740.3" r="2.25" fill="#620a58"/>
<circle cx="211.65" cy="753.96" r="2.25" fill="#620a58"/>
<circle cx="208.65" cy="758.28" r="2.25" fill="#620a58"/>
<circle cx="214.65" cy="765.47" r="2.25" fill="#620a58"/>
<path d="M80.2 668.9V813.4H224.9" stroke="#111111" stroke-width="1.6" fill="none"/>
<path d="M74 813.4H80.2" stroke="#111111" stroke-width="1.5"/>
<text x="67.37" y="817.67" font-size="9.4" font-weight="bold" fill="#111111" textLength="5.75" lengthAdjust="spacingAndGlyphs" stroke="#111" stroke-width="0.25">0</text>
<path d="M74 765.47H80.2" stroke="#111111" stroke-width="1.5"/>
<text x="55.87" y="769.73" font-size="9.4" font-weight="bold" fill="#111111" textLength="17.25" lengthAdjust="spacingAndGlyphs" stroke="#111" stroke-width="0.25">200</text>
<path d="M74 717.53H80.2" stroke="#111111" stroke-width="1.5"/>
<text x="55.87" y="721.8" font-size="9.4" font-weight="bold" fill="#111111" textLength="17.25" lengthAdjust="spacingAndGlyphs" stroke="#111" stroke-width="0.25">400</text>
<path d="M74 669.6H80.2" stroke="#111111" stroke-width="1.5"/>
<text x="55.87" y="673.87" font-size="9.4" font-weight="bold" fill="#111111" textLength="17.25" lengthAdjust="spacingAndGlyphs" stroke="#111" stroke-width="0.25">600</text>
<path d="M102 813.4V819.4" stroke="#111111" stroke-width="1.5"/>
<path d="M151.9 813.4V819.4" stroke="#111111" stroke-width="1.5"/>
<path d="M201.8 813.4V819.4" stroke="#111111" stroke-width="1.5"/>
<polygon points="89.55,667.8 88.67,669.88 86.43,669.6 87.8,671.4 86.43,673.2 88.67,672.92 89.55,675 90.42,672.92 92.67,673.2 91.3,671.4 92.67,669.6 90.42,669.88" fill="#111111"/>
<polygon points="97.85,667.8 96.97,669.88 94.73,669.6 96.1,671.4 94.73,673.2 96.97,672.92 97.85,675 98.72,672.92 100.97,673.2 99.6,671.4 100.97,669.6 98.72,669.88" fill="#111111"/>
<polygon points="106.15,667.8 105.28,669.88 103.03,669.6 104.4,671.4 103.03,673.2 105.28,672.92 106.15,675 107.03,672.92 109.27,673.2 107.9,671.4 109.27,669.6 107.03,669.88" fill="#111111"/>
<polygon points="114.45,667.8 113.58,669.88 111.33,669.6 112.7,671.4 111.33,673.2 113.58,672.92 114.45,675 115.33,672.92 117.57,673.2 116.2,671.4 117.57,669.6 115.33,669.88" fill="#111111"/>
<polygon points="139.45,681.1 138.58,683.18 136.33,682.9 137.7,684.7 136.33,686.5 138.58,686.22 139.45,688.3 140.33,686.22 142.57,686.5 141.2,684.7 142.57,682.9 140.33,683.18" fill="#111111"/>
<polygon points="147.75,681.1 146.88,683.18 144.63,682.9 146,684.7 144.63,686.5 146.88,686.22 147.75,688.3 148.63,686.22 150.87,686.5 149.5,684.7 150.87,682.9 148.63,683.18" fill="#111111"/>
<polygon points="156.05,681.1 155.18,683.18 152.93,682.9 154.3,684.7 152.93,686.5 155.18,686.22 156.05,688.3 156.93,686.22 159.17,686.5 157.8,684.7 159.17,682.9 156.93,683.18" fill="#111111"/>
<polygon points="164.35,681.1 163.48,683.18 161.23,682.9 162.6,684.7 161.23,686.5 163.48,686.22 164.35,688.3 165.23,686.22 167.47,686.5 166.1,684.7 167.47,682.9 165.23,683.18" fill="#111111"/>
<polygon points="189.35,722.6 188.48,724.68 186.23,724.4 187.6,726.2 186.23,728 188.48,727.72 189.35,729.8 190.23,727.72 192.47,728 191.1,726.2 192.47,724.4 190.23,724.68" fill="#111111"/>
<polygon points="197.65,722.6 196.78,724.68 194.53,724.4 195.9,726.2 194.53,728 196.78,727.72 197.65,729.8 198.53,727.72 200.77,728 199.4,726.2 200.77,724.4 198.53,724.68" fill="#111111"/>
<polygon points="205.95,722.6 205.08,724.68 202.83,724.4 204.2,726.2 202.83,728 205.08,727.72 205.95,729.8 206.83,727.72 209.07,728 207.7,726.2 209.07,724.4 206.83,724.68" fill="#111111"/>
<polygon points="214.25,722.6 213.38,724.68 211.13,724.4 212.5,726.2 211.13,728 213.38,727.72 214.25,729.8 215.13,727.72 217.37,728 216,726.2 217.37,724.4 215.13,724.68" fill="#111111"/>
<text x="84.87" y="833.3" font-size="13.2" font-weight="bold" fill="#111111" textLength="22.31" lengthAdjust="spacingAndGlyphs">Fluc</text>
<text x="107.56" y="828.7" font-size="8.4" font-weight="bold" fill="#111111" textLength="11.42" lengthAdjust="spacingAndGlyphs">WT</text>
<text x="138.19" y="833.3" font-size="13.2" font-weight="bold" fill="#111111" textLength="24.97" lengthAdjust="spacingAndGlyphs">Fluc</text>
<text x="163.25" y="828.7" font-size="8.4" font-weight="bold" fill="#111111" textLength="13.35" lengthAdjust="spacingAndGlyphs">SM</text>
<text x="189.68" y="833.3" font-size="13.2" font-weight="bold" fill="#111111" textLength="25.07" lengthAdjust="spacingAndGlyphs">Fluc</text>
<text x="214.39" y="828.7" font-size="8.4" font-weight="bold" fill="#111111" textLength="16.52" lengthAdjust="spacingAndGlyphs">DM</text>
<path d="M283.65 786.45V784.46M280.25 784.46H287.05" stroke="#0c0c6e" stroke-width="1.3"/>
<rect x="278.52" y="787.63" width="10.25" height="24.97" fill="#c3c6f8" stroke="#0c0c6e" stroke-width="2.35"/>
<circle cx="280.15" cy="784.46" r="2.25" fill="#0c0c70"/>
<circle cx="283.65" cy="784.46" r="2.25" fill="#0c0c70"/>
<circle cx="287.15" cy="784.46" r="2.25" fill="#0c0c70"/>
<circle cx="283.65" cy="796.4" r="2.25" fill="#0c0c70"/>
<path d="M303.35 730.32V727.2M299.95 727.2H306.75" stroke="#600a56" stroke-width="1.3"/>
<rect x="298.23" y="731.5" width="10.25" height="81.1" fill="#fabde6" stroke="#600a56" stroke-width="2.35"/>
<circle cx="300.35" cy="725.63" r="2.25" fill="#620a58"/>
<circle cx="307.35" cy="723.93" r="2.25" fill="#620a58"/>
<circle cx="303.35" cy="731.6" r="2.25" fill="#620a58"/>
<circle cx="303.35" cy="737.57" r="2.25" fill="#620a58"/>
<path d="M333.45 777.64V774.52M330.05 774.52H336.85" stroke="#0c0c6e" stroke-width="1.3"/>
<rect x="328.32" y="778.82" width="10.25" height="33.78" fill="#c3c6f8" stroke="#0c0c6e" stroke-width="2.35"/>
<circle cx="329.45" cy="773.24" r="2.25" fill="#0c0c70"/>
<circle cx="336.95" cy="771.53" r="2.25" fill="#0c0c70"/>
<circle cx="333.45" cy="779.21" r="2.25" fill="#0c0c70"/>
<circle cx="336.45" cy="781.62" r="2.25" fill="#0c0c70"/>
<path d="M353.15 716.54V707.02M349.75 707.02H356.55" stroke="#600a56" stroke-width="1.3"/>
<rect x="348.03" y="717.72" width="10.25" height="94.88" fill="#fabde6" stroke="#600a56" stroke-width="2.35"/>
<circle cx="350.65" cy="702.47" r="2.25" fill="#620a58"/>
<circle cx="358.15" cy="699.35" r="2.25" fill="#620a58"/>
<circle cx="353.15" cy="726.77" r="2.25" fill="#620a58"/>
<circle cx="353.15" cy="735.16" r="2.25" fill="#620a58"/>
<rect x="378.32" y="794.73" width="10.25" height="17.87" fill="#c3c6f8" stroke="#0c0c6e" stroke-width="2.35"/>
<circle cx="380.45" cy="791.85" r="2.25" fill="#0c0c70"/>
<circle cx="383.45" cy="792.71" r="2.25" fill="#0c0c70"/>
<circle cx="386.45" cy="793.56" r="2.25" fill="#0c0c70"/>
<circle cx="383.45" cy="794.13" r="2.25" fill="#0c0c70"/>
<path d="M403.15 720.38V708.3M399.75 708.3H406.55" stroke="#600a56" stroke-width="1.3"/>
<rect x="398.03" y="721.55" width="10.25" height="91.05" fill="#fabde6" stroke="#600a56" stroke-width="2.35"/>
<circle cx="403.15" cy="697.78" r="2.25" fill="#620a58"/>
<circle cx="403.15" cy="703.04" r="2.25" fill="#620a58"/>
<circle cx="403.15" cy="732.31" r="2.25" fill="#620a58"/>
<circle cx="403.15" cy="745.39" r="2.25" fill="#620a58"/>
<path d="M271.7 669.8V812.6H416.2" stroke="#111111" stroke-width="1.6" fill="none"/>
<path d="M265.5 812.6H271.7" stroke="#111111" stroke-width="1.5"/>
<text x="259.02" y="816.87" font-size="9.4" font-weight="bold" fill="#111111" textLength="5.59" lengthAdjust="spacingAndGlyphs" stroke="#111" stroke-width="0.25">0</text>
<path d="M265.5 784.18H271.7" stroke="#111111" stroke-width="1.5"/>
<text x="247.83" y="788.45" font-size="9.4" font-weight="bold" fill="#111111" textLength="16.78" lengthAdjust="spacingAndGlyphs" stroke="#111" stroke-width="0.25">200</text>
<path d="M265.5 755.76H271.7" stroke="#111111" stroke-width="1.5"/>
<text x="247.83" y="760.03" font-size="9.4" font-weight="bold" fill="#111111" textLength="16.78" lengthAdjust="spacingAndGlyphs" stroke="#111" stroke-width="0.25">400</text>
<path d="M265.5 727.34H271.7" stroke="#111111" stroke-width="1.5"/>
<text x="247.83" y="731.61" font-size="9.4" font-weight="bold" fill="#111111" textLength="16.78" lengthAdjust="spacingAndGlyphs" stroke="#111" stroke-width="0.25">600</text>
<path d="M265.5 698.92H271.7" stroke="#111111" stroke-width="1.5"/>
<text x="247.83" y="703.19" font-size="9.4" font-weight="bold" fill="#111111" textLength="16.78" lengthAdjust="spacingAndGlyphs" stroke="#111" stroke-width="0.25">800</text>
<path d="M265.5 670.5H271.7" stroke="#111111" stroke-width="1.5"/>
<text x="242.24" y="674.77" font-size="9.4" font-weight="bold" fill="#111111" textLength="22.38" lengthAdjust="spacingAndGlyphs" stroke="#111" stroke-width="0.25">1000</text>
<path d="M293.5 812.6V818.6" stroke="#111111" stroke-width="1.5"/>
<path d="M343.3 812.6V818.6" stroke="#111111" stroke-width="1.5"/>
<path d="M393.3 812.6V818.6" stroke="#111111" stroke-width="1.5"/>
<polygon points="281.05,706.8 280.18,708.88 277.93,708.6 279.3,710.4 277.93,712.2 280.18,711.92 281.05,714 281.93,711.92 284.17,712.2 282.8,710.4 284.17,708.6 281.93,708.88" fill="#111111"/>
<polygon points="289.35,706.8 288.48,708.88 286.23,708.6 287.6,710.4 286.23,712.2 288.48,711.92 289.35,714 290.23,711.92 292.47,712.2 291.1,710.4 292.47,708.6 290.23,708.88" fill="#111111"/>
<polygon points="297.65,706.8 296.78,708.88 294.53,708.6 295.9,710.4 294.53,712.2 296.78,711.92 297.65,714 298.53,711.92 300.77,712.2 299.4,710.4 300.77,708.6 298.53,708.88" fill="#111111"/>
<polygon points="305.95,706.8 305.07,708.88 302.83,708.6 304.2,710.4 302.83,712.2 305.07,711.92 305.95,714 306.82,711.92 309.07,712.2 307.7,710.4 309.07,708.6 306.82,708.88" fill="#111111"/>
<polygon points="330.85,686.4 329.98,688.48 327.73,688.2 329.1,690 327.73,691.8 329.98,691.52 330.85,693.6 331.73,691.52 333.97,691.8 332.6,690 333.97,688.2 331.73,688.48" fill="#111111"/>
<polygon points="339.15,686.4 338.28,688.48 336.03,688.2 337.4,690 336.03,691.8 338.28,691.52 339.15,693.6 340.03,691.52 342.27,691.8 340.9,690 342.27,688.2 340.03,688.48" fill="#111111"/>
<polygon points="347.45,686.4 346.58,688.48 344.33,688.2 345.7,690 344.33,691.8 346.58,691.52 347.45,693.6 348.33,691.52 350.57,691.8 349.2,690 350.57,688.2 348.33,688.48" fill="#111111"/>
<polygon points="355.75,686.4 354.88,688.48 352.63,688.2 354,690 352.63,691.8 354.88,691.52 355.75,693.6 356.62,691.52 358.87,691.8 357.5,690 358.87,688.2 356.62,688.48" fill="#111111"/>
<polygon points="380.85,678.1 379.98,680.18 377.73,679.9 379.1,681.7 377.73,683.5 379.98,683.22 380.85,685.3 381.73,683.22 383.97,683.5 382.6,681.7 383.97,679.9 381.73,680.18" fill="#111111"/>
<polygon points="389.15,678.1 388.28,680.18 386.03,679.9 387.4,681.7 386.03,683.5 388.28,683.22 389.15,685.3 390.03,683.22 392.27,683.5 390.9,681.7 392.27,679.9 390.03,680.18" fill="#111111"/>
<polygon points="397.45,678.1 396.58,680.18 394.33,679.9 395.7,681.7 394.33,683.5 396.58,683.22 397.45,685.3 398.33,683.22 400.57,683.5 399.2,681.7 400.57,679.9 398.33,680.18" fill="#111111"/>
<polygon points="405.75,678.1 404.88,680.18 402.63,679.9 404,681.7 402.63,683.5 404.88,683.22 405.75,685.3 406.62,683.22 408.87,683.5 407.5,681.7 408.87,679.9 406.62,680.18" fill="#111111"/>
<text x="274.97" y="832.7" font-size="13.2" font-weight="bold" fill="#111111" textLength="25.42" lengthAdjust="spacingAndGlyphs">Fluc</text>
<text x="300.72" y="828.1" font-size="8.4" font-weight="bold" fill="#111111" textLength="12.97" lengthAdjust="spacingAndGlyphs">WT</text>
<text x="328.98" y="832.7" font-size="13.2" font-weight="bold" fill="#111111" textLength="25.11" lengthAdjust="spacingAndGlyphs">Fluc</text>
<text x="354.18" y="828.1" font-size="8.4" font-weight="bold" fill="#111111" textLength="13.42" lengthAdjust="spacingAndGlyphs">SM</text>
<text x="380.83" y="832.7" font-size="13.2" font-weight="bold" fill="#111111" textLength="23.77" lengthAdjust="spacingAndGlyphs">Fluc</text>
<text x="404.29" y="828.1" font-size="8.4" font-weight="bold" fill="#111111" textLength="15.69" lengthAdjust="spacingAndGlyphs">DM</text>
<path d="M477.75 783.62V774.67M474.35 774.67H481.15" stroke="#0c0c6e" stroke-width="1.3"/>
<rect x="472.62" y="784.79" width="10.25" height="27.7" fill="#c3c6f8" stroke="#0c0c6e" stroke-width="2.35"/>
<circle cx="477.75" cy="771.35" r="2.25" fill="#0c0c70"/>
<circle cx="477.75" cy="783.62" r="2.25" fill="#0c0c70"/>
<circle cx="474.25" cy="788.24" r="2.25" fill="#0c0c70"/>
<circle cx="481.25" cy="789.4" r="2.25" fill="#0c0c70"/>
<rect x="492.33" y="769.92" width="10.25" height="42.58" fill="#fabde6" stroke="#600a56" stroke-width="2.35"/>
<circle cx="493.95" cy="768.75" r="2.25" fill="#620a58"/>
<circle cx="497.45" cy="768.75" r="2.25" fill="#620a58"/>
<circle cx="500.95" cy="768.75" r="2.25" fill="#620a58"/>
<circle cx="497.45" cy="769.18" r="2.25" fill="#620a58"/>
<path d="M527.65 759.07V750.41M524.25 750.41H531.05" stroke="#0c0c6e" stroke-width="1.3"/>
<rect x="522.52" y="760.25" width="10.25" height="52.25" fill="#c3c6f8" stroke="#0c0c6e" stroke-width="2.35"/>
<circle cx="523.65" cy="752.43" r="2.25" fill="#0c0c70"/>
<circle cx="531.65" cy="752.43" r="2.25" fill="#0c0c70"/>
<circle cx="523.65" cy="762.54" r="2.25" fill="#0c0c70"/>
<circle cx="531.65" cy="762.54" r="2.25" fill="#0c0c70"/>
<path d="M547.35 755.03V745.07M543.95 745.07H550.75" stroke="#600a56" stroke-width="1.3"/>
<rect x="542.23" y="756.2" width="10.25" height="56.3" fill="#fabde6" stroke="#600a56" stroke-width="2.35"/>
<circle cx="544.85" cy="748.96" r="2.25" fill="#620a58"/>
<circle cx="550.35" cy="746.36" r="2.25" fill="#620a58"/>
<circle cx="547.35" cy="769.32" r="2.25" fill="#620a58"/>
<circle cx="547.35" cy="755.03" r="2.25" fill="#620a58"/>
<path d="M577.85 706.65V672.14M574.45 672.14H581.25" stroke="#0c0c6e" stroke-width="1.3"/>
<rect x="572.73" y="707.83" width="10.25" height="104.67" fill="#c3c6f8" stroke="#0c0c6e" stroke-width="2.35"/>
<circle cx="577.85" cy="675.61" r="2.25" fill="#0c0c70"/>
<circle cx="573.35" cy="696.98" r="2.25" fill="#0c0c70"/>
<circle cx="582.35" cy="696.98" r="2.25" fill="#0c0c70"/>
<circle cx="577.85" cy="755.75" r="2.25" fill="#0c0c70"/>
<path d="M597.55 748.96V730.19M594.15 730.19H600.95" stroke="#600a56" stroke-width="1.3"/>
<rect x="592.43" y="750.14" width="10.25" height="62.36" fill="#fabde6" stroke="#600a56" stroke-width="2.35"/>
<circle cx="593.05" cy="734.96" r="2.25" fill="#620a58"/>
<circle cx="601.55" cy="732.36" r="2.25" fill="#620a58"/>
<circle cx="597.55" cy="756.62" r="2.25" fill="#620a58"/>
<circle cx="597.55" cy="772.79" r="2.25" fill="#620a58"/>
<path d="M465.5 667.4V812.5H609.8" stroke="#111111" stroke-width="1.6" fill="none"/>
<path d="M459.3 812.5H465.5" stroke="#111111" stroke-width="1.5"/>
<text x="452.77" y="816.77" font-size="9.4" font-weight="bold" fill="#111111" textLength="5.65" lengthAdjust="spacingAndGlyphs" stroke="#111" stroke-width="0.25">0</text>
<path d="M459.3 783.62H465.5" stroke="#111111" stroke-width="1.5"/>
<text x="441.48" y="787.89" font-size="9.4" font-weight="bold" fill="#111111" textLength="16.94" lengthAdjust="spacingAndGlyphs" stroke="#111" stroke-width="0.25">200</text>
<path d="M459.3 754.74H465.5" stroke="#111111" stroke-width="1.5"/>
<text x="441.48" y="759.01" font-size="9.4" font-weight="bold" fill="#111111" textLength="16.94" lengthAdjust="spacingAndGlyphs" stroke="#111" stroke-width="0.25">400</text>
<path d="M459.3 725.86H465.5" stroke="#111111" stroke-width="1.5"/>
<text x="441.48" y="730.13" font-size="9.4" font-weight="bold" fill="#111111" textLength="16.94" lengthAdjust="spacingAndGlyphs" stroke="#111" stroke-width="0.25">600</text>
<path d="M459.3 696.98H465.5" stroke="#111111" stroke-width="1.5"/>
<text x="441.48" y="701.25" font-size="9.4" font-weight="bold" fill="#111111" textLength="16.94" lengthAdjust="spacingAndGlyphs" stroke="#111" stroke-width="0.25">800</text>
<path d="M459.3 668.1H465.5" stroke="#111111" stroke-width="1.5"/>
<text x="435.83" y="672.37" font-size="9.4" font-weight="bold" fill="#111111" textLength="22.58" lengthAdjust="spacingAndGlyphs" stroke="#111" stroke-width="0.25">1000</text>
<path d="M487.6 812.5V818.5" stroke="#111111" stroke-width="1.5"/>
<path d="M537.5 812.5V818.5" stroke="#111111" stroke-width="1.5"/>
<path d="M587.7 812.5V818.5" stroke="#111111" stroke-width="1.5"/>
<text x="467.66" y="833.6" font-size="13.2" font-weight="bold" fill="#111111" textLength="25.77" lengthAdjust="spacingAndGlyphs">Fluc</text>
<text x="493.75" y="829" font-size="8.4" font-weight="bold" fill="#111111" textLength="13.14" lengthAdjust="spacingAndGlyphs">WT</text>
<text x="522.99" y="833.6" font-size="13.2" font-weight="bold" fill="#111111" textLength="24.97" lengthAdjust="spacingAndGlyphs">Fluc</text>
<text x="548.05" y="829" font-size="8.4" font-weight="bold" fill="#111111" textLength="13.35" lengthAdjust="spacingAndGlyphs">SM</text>
<text x="575.11" y="833.6" font-size="13.2" font-weight="bold" fill="#111111" textLength="24.16" lengthAdjust="spacingAndGlyphs">Fluc</text>
<text x="598.95" y="829" font-size="8.4" font-weight="bold" fill="#111111" textLength="15.94" lengthAdjust="spacingAndGlyphs">DM</text>
<text x="111.67" y="870.4" font-size="12.8" font-weight="bold" fill="#111111" textLength="25.63" lengthAdjust="spacingAndGlyphs">Fluc</text>
<text x="137.62" y="865.4" font-size="8.2" font-weight="bold" fill="#111111" textLength="13.07" lengthAdjust="spacingAndGlyphs">WT</text>
<text x="187.58" y="870.4" font-size="12.8" font-weight="bold" fill="#111111" textLength="25.11" lengthAdjust="spacingAndGlyphs">Fluc</text>
<text x="212.78" y="865.4" font-size="8.2" font-weight="bold" fill="#111111" textLength="13.42" lengthAdjust="spacingAndGlyphs">SM</text>
<text x="266.29" y="870.4" font-size="12.8" font-weight="bold" fill="#111111" textLength="25.01" lengthAdjust="spacingAndGlyphs">Fluc</text>
<text x="290.93" y="865.4" font-size="8.2" font-weight="bold" fill="#111111" textLength="16.48" lengthAdjust="spacingAndGlyphs">DM</text>
<text x="380.48" y="870.4" font-size="12.8" font-weight="bold" fill="#111111" textLength="25.14" lengthAdjust="spacingAndGlyphs">Fluc</text>
<text x="405.96" y="865.4" font-size="8.2" font-weight="bold" fill="#111111" textLength="12.83" lengthAdjust="spacingAndGlyphs">WT</text>
<text x="455.86" y="870.4" font-size="12.8" font-weight="bold" fill="#111111" textLength="25.87" lengthAdjust="spacingAndGlyphs">Fluc</text>
<text x="481.8" y="865.4" font-size="8.2" font-weight="bold" fill="#111111" textLength="13.82" lengthAdjust="spacingAndGlyphs">SM</text>
<text x="534.2" y="870.4" font-size="12.8" font-weight="bold" fill="#111111" textLength="24.62" lengthAdjust="spacingAndGlyphs">Fluc</text>
<text x="558.47" y="865.4" font-size="8.2" font-weight="bold" fill="#111111" textLength="16.23" lengthAdjust="spacingAndGlyphs">DM</text>
<path d="M88.8 907.8V992.4" stroke="#111111" stroke-width="1.6"/>
<g transform="translate(82.2 0) rotate(-90)">
<text x="-981.24" y="0" font-size="17.3" font-weight="bold" fill="#111111" textLength="41.77" lengthAdjust="spacingAndGlyphs" stroke="#111" stroke-width="0.35">SOD1</text>
<text x="-939.31" y="-6.2" font-size="9.9" font-weight="bold" fill="#111111" textLength="16.73" lengthAdjust="spacingAndGlyphs" stroke="#111" stroke-width="0.2">WT</text>
</g>
<path d="M89 1059.3V1143.9" stroke="#111111" stroke-width="1.6"/>
<g transform="translate(82 0) rotate(-90)">
<text x="-1130.33" y="0" font-size="17.3" font-weight="bold" fill="#111111" textLength="40.85" lengthAdjust="spacingAndGlyphs" stroke="#111" stroke-width="0.35">SOD1</text>
<text x="-1089.16" y="-6.2" font-size="9.9" font-weight="bold" fill="#111111" textLength="20.33" lengthAdjust="spacingAndGlyphs" stroke="#111" stroke-width="0.2">A4V</text>
</g>
<path d="M357.1 903.5V988.3" stroke="#111111" stroke-width="1.6"/>
<g transform="translate(349.7 0) rotate(-90)">
<text x="-976.62" y="0" font-size="17.3" font-weight="bold" fill="#111111" textLength="34.98" lengthAdjust="spacingAndGlyphs" stroke="#111" stroke-width="0.35">CCNF</text>
<text x="-941.41" y="-6.2" font-size="9.9" font-weight="bold" fill="#111111" textLength="21.36" lengthAdjust="spacingAndGlyphs" stroke="#111" stroke-width="0.2">WT</text>
</g>
<path d="M357.1 1056.9V1141.8" stroke="#111111" stroke-width="1.6"/>
<g transform="translate(349.8 0) rotate(-90)">
<text x="-1133.75" y="0" font-size="17.3" font-weight="bold" fill="#111111" textLength="37.24" lengthAdjust="spacingAndGlyphs" stroke="#111" stroke-width="0.35">CCNF</text>
<text x="-1096.52" y="-6.2" font-size="9.9" font-weight="bold" fill="#111111" textLength="34.61" lengthAdjust="spacingAndGlyphs" stroke="#111" stroke-width="0.2">S621G</text>
</g>
<svg x="96" y="878.3" width="72" height="68.3" viewBox="0 0 72 68.5" preserveAspectRatio="none" overflow="hidden">
<rect width="72" height="68.5" fill="#000"/>
<g filter="url(#tex1)">
<path d="M13.2 12.6C14.02 10.55 15.7 7.4 17.5 6C19.3 4.6 21.92 4.37 24 4.2C26.08 4.03 28.25 4.2 30 5C31.75 5.8 32.92 7.92 34.5 9C36.08 10.08 37.92 10.25 39.5 11.5C41.08 12.75 42.83 14.25 44 16.5C45.17 18.75 45.67 22.25 46.5 25C47.33 27.75 47.98 30.33 49 33C50.02 35.67 51.62 38.33 52.6 41C53.58 43.67 54.43 46.58 54.9 49C55.37 51.42 55.98 53.95 55.4 55.5C54.82 57.05 53.02 58.22 51.4 58.3C49.78 58.38 47.98 56.95 45.7 56C43.42 55.05 40.55 53.93 37.7 52.6C34.85 51.27 31.27 49.72 28.6 48C25.93 46.28 23.42 44.58 21.7 42.3C19.98 40.02 19.15 36.78 18.3 34.3C17.45 31.82 17.25 29.3 16.6 27.4C15.95 25.5 15.07 24.42 14.4 22.9C13.73 21.38 12.8 20.02 12.6 18.3C12.4 16.58 12.38 14.65 13.2 12.6Z" fill="#2f922f" opacity="1" filter="url(#b09)"/>
<path d="M13.2 12.6C14.02 10.55 15.7 7.4 17.5 6C19.3 4.6 21.92 4.37 24 4.2C26.08 4.03 28.25 4.2 30 5C31.75 5.8 32.92 7.92 34.5 9C36.08 10.08 37.92 10.25 39.5 11.5C41.08 12.75 42.83 14.25 44 16.5C45.17 18.75 45.67 22.25 46.5 25C47.33 27.75 47.98 30.33 49 33C50.02 35.67 51.62 38.33 52.6 41C53.58 43.67 54.43 46.58 54.9 49C55.37 51.42 55.98 53.95 55.4 55.5C54.82 57.05 53.02 58.22 51.4 58.3C49.78 58.38 47.98 56.95 45.7 56C43.42 55.05 40.55 53.93 37.7 52.6C34.85 51.27 31.27 49.72 28.6 48C25.93 46.28 23.42 44.58 21.7 42.3C19.98 40.02 19.15 36.78 18.3 34.3C17.45 31.82 17.25 29.3 16.6 27.4C15.95 25.5 15.07 24.42 14.4 22.9C13.73 21.38 12.8 20.02 12.6 18.3C12.4 16.58 12.38 14.65 13.2 12.6Z" fill="#268026" opacity="0.8" filter="url(#b22)"/>
<ellipse cx="34.3" cy="37.8" rx="13.2" ry="12.2" fill="#1a5a1a" opacity="1" filter="url(#b16)" transform="rotate(10 34.3 37.8)"/>
<ellipse cx="33" cy="20" rx="1.5" ry="1.5" fill="#46b046" opacity="0.8" filter="url(#b08)"/>
</g>
</svg>
<svg x="171.2" y="878.3" width="71.1" height="68.3" viewBox="0 0 72 68.5" preserveAspectRatio="none" overflow="hidden">
<rect width="72" height="68.5" fill="#000"/>
<g filter="url(#tex2)">
<path d="M6.9 54.9C6.72 51.85 7.05 49.13 8 45.7C8.95 42.27 10.88 37.75 12.6 34.3C14.32 30.85 16.02 27.87 18.3 25C20.58 22.13 23.83 19.55 26.3 17.1C28.77 14.65 31 11.72 33.1 10.3C35.2 8.88 36.42 8.7 38.9 8.6C41.38 8.5 45.15 9.03 48 9.7C50.85 10.37 54.1 11.17 56 12.6C57.9 14.03 59.02 16.02 59.4 18.3C59.78 20.58 59.05 23.63 58.3 26.3C57.55 28.97 56.62 31.45 54.9 34.3C53.18 37.15 49.92 40.35 48 43.4C46.08 46.45 45.3 49.93 43.4 52.6C41.5 55.27 39.27 57.5 36.6 59.4C33.93 61.3 30.65 62.85 27.4 64C24.15 65.15 20.15 66.3 17.1 66.3C14.05 66.3 10.8 65.9 9.1 64C7.4 62.1 7.08 57.95 6.9 54.9Z" fill="#2a8a2a" opacity="1" filter="url(#b09)"/>
<ellipse cx="33" cy="28.6" rx="12.5" ry="6.5" fill="#185418" opacity="1" filter="url(#b15)" transform="rotate(-10 33 28.6)"/>
<ellipse cx="32" cy="33" rx="9" ry="3" fill="#247024" opacity="0.6" filter="url(#b15)" transform="rotate(-10 32 33)"/>
<ellipse cx="17.1" cy="29.7" rx="2" ry="2.2" fill="#56c856" opacity="0.9" filter="url(#b08)"/>
</g>
</svg>
<svg x="245.8" y="878.3" width="71.2" height="68.3" viewBox="0 0 72 68.5" preserveAspectRatio="none" overflow="hidden">
<rect width="72" height="68.5" fill="#000"/>
<g filter="url(#tex3)">
<path d="M14.9 26.3C15.85 24.3 18.32 23.63 20.6 22.3C22.88 20.97 25.75 19.17 28.6 18.3C31.45 17.43 34.47 17.1 37.7 17.1C40.93 17.1 44.95 17.53 48 18.3C51.05 19.07 53.52 19.98 56 21.7C58.48 23.42 61.18 26.12 62.9 28.6C64.62 31.08 66.12 33.93 66.3 36.6C66.48 39.27 65.33 42.32 64 44.6C62.67 46.88 60.58 48.58 58.3 50.3C56.02 52.02 53.17 53.77 50.3 54.9C47.43 56.03 44.53 57.1 41.1 57.1C37.67 57.1 32.93 56.23 29.7 54.9C26.47 53.57 23.8 51.2 21.7 49.1C19.6 47 18.23 44.77 17.1 42.3C15.97 39.83 15.27 36.97 14.9 34.3C14.53 31.63 13.95 28.3 14.9 26.3Z" fill="#34ae34" opacity="1" filter="url(#b09)"/>
<ellipse cx="33.7" cy="32.3" rx="13.3" ry="13.3" fill="#0b360b" opacity="1" filter="url(#b12)"/>
<ellipse cx="50" cy="44" rx="1.4" ry="1.4" fill="#70e070" opacity="0.9" filter="url(#b06)"/>
</g>
</svg>
<svg x="96" y="949.4" width="72" height="68.6" viewBox="0 0 72 68.5" preserveAspectRatio="none" overflow="hidden">
<rect width="72" height="68.5" fill="#000"/>
<g filter="url(#tex0)">
<ellipse cx="58" cy="26" rx="13" ry="17" fill="#1c1cb0" opacity="0.75" filter="url(#b30)"/>
<ellipse cx="20" cy="64" rx="17" ry="8" fill="#1a1aa8" opacity="0.75" filter="url(#b30)"/>
<path d="M12.2 12.6C13.02 10.55 14.7 7.4 16.5 6C18.3 4.6 20.92 4.37 23 4.2C25.08 4.03 27.25 4.2 29 5C30.75 5.8 31.92 7.92 33.5 9C35.08 10.08 36.92 10.25 38.5 11.5C40.08 12.75 41.83 14.25 43 16.5C44.17 18.75 44.67 22.25 45.5 25C46.33 27.75 46.98 30.33 48 33C49.02 35.67 50.62 38.33 51.6 41C52.58 43.67 53.43 46.58 53.9 49C54.37 51.42 54.98 53.95 54.4 55.5C53.82 57.05 52.02 58.22 50.4 58.3C48.78 58.38 46.98 56.95 44.7 56C42.42 55.05 39.55 53.93 36.7 52.6C33.85 51.27 30.27 49.72 27.6 48C24.93 46.28 22.42 44.58 20.7 42.3C18.98 40.02 18.15 36.78 17.3 34.3C16.45 31.82 16.25 29.3 15.6 27.4C14.95 25.5 14.07 24.42 13.4 22.9C12.73 21.38 11.8 20.02 11.6 18.3C11.4 16.58 11.38 14.65 12.2 12.6Z" fill="#c8922c" opacity="1" filter="url(#b09)"/>
<ellipse cx="33.4" cy="37.7" rx="14.3" ry="13.5" fill="#2a42b6" opacity="1" filter="url(#b11)" transform="rotate(10 33.4 37.7)"/>
<ellipse cx="34" cy="40" rx="7" ry="6" fill="#3a58c0" opacity="0.6" filter="url(#b20)"/>
</g>
</svg>
<svg x="171.2" y="949.4" width="71.1" height="68.6" viewBox="0 0 72 68.5" preserveAspectRatio="none" overflow="hidden">
<rect width="72" height="68.5" fill="#000"/>
<g filter="url(#tex1)">
<ellipse cx="12" cy="3" rx="8" ry="6" fill="#1a1ab0" opacity="0.8" filter="url(#b25)"/>
<ellipse cx="2" cy="23" rx="5" ry="9" fill="#1a1ab8" opacity="0.85" filter="url(#b25)"/>
<ellipse cx="59" cy="53" rx="14" ry="18" fill="#1a1aa6" opacity="0.85" filter="url(#b30)"/>
<path d="M6.9 54.9C6.72 51.85 7.05 49.13 8 45.7C8.95 42.27 10.88 37.75 12.6 34.3C14.32 30.85 16.02 27.87 18.3 25C20.58 22.13 23.83 19.55 26.3 17.1C28.77 14.65 31 11.72 33.1 10.3C35.2 8.88 36.42 8.7 38.9 8.6C41.38 8.5 45.15 9.03 48 9.7C50.85 10.37 54.1 11.17 56 12.6C57.9 14.03 59.02 16.02 59.4 18.3C59.78 20.58 59.05 23.63 58.3 26.3C57.55 28.97 56.62 31.45 54.9 34.3C53.18 37.15 49.92 40.35 48 43.4C46.08 46.45 45.3 49.93 43.4 52.6C41.5 55.27 39.27 57.5 36.6 59.4C33.93 61.3 30.65 62.85 27.4 64C24.15 65.15 20.15 66.3 17.1 66.3C14.05 66.3 10.8 65.9 9.1 64C7.4 62.1 7.08 57.95 6.9 54.9Z" fill="#9a9832" opacity="1" filter="url(#b09)"/>
<ellipse cx="32" cy="31" rx="13.5" ry="13" fill="#3a48b4" opacity="1" filter="url(#b12)" transform="rotate(-10 32 31)"/>
<ellipse cx="32" cy="27" rx="7" ry="3.5" fill="#3440b0" opacity="0.8" filter="url(#b12)" transform="rotate(-10 32 27)"/>
</g>
</svg>
<svg x="245.8" y="949.4" width="71.2" height="68.6" viewBox="0 0 72 68.5" preserveAspectRatio="none" overflow="hidden">
<rect width="72" height="68.5" fill="#000"/>
<g filter="url(#tex2)">
<ellipse cx="7" cy="1" rx="8" ry="3.5" fill="#1a1ab0" opacity="0.8" filter="url(#b25)"/>
<ellipse cx="65" cy="3" rx="9" ry="5" fill="#1a1ab0" opacity="0.8" filter="url(#b25)"/>
<ellipse cx="70" cy="60" rx="5" ry="10" fill="#1a1aa0" opacity="0.8" filter="url(#b30)"/>
<path d="M14.9 26.3C15.85 24.3 18.32 23.63 20.6 22.3C22.88 20.97 25.75 19.17 28.6 18.3C31.45 17.43 34.47 17.1 37.7 17.1C40.93 17.1 44.95 17.53 48 18.3C51.05 19.07 53.52 19.98 56 21.7C58.48 23.42 61.18 26.12 62.9 28.6C64.62 31.08 66.12 33.93 66.3 36.6C66.48 39.27 65.33 42.32 64 44.6C62.67 46.88 60.58 48.58 58.3 50.3C56.02 52.02 53.17 53.77 50.3 54.9C47.43 56.03 44.53 57.1 41.1 57.1C37.67 57.1 32.93 56.23 29.7 54.9C26.47 53.57 23.8 51.2 21.7 49.1C19.6 47 18.23 44.77 17.1 42.3C15.97 39.83 15.27 36.97 14.9 34.3C14.53 31.63 13.95 28.3 14.9 26.3Z" fill="#b2b02a" opacity="1" filter="url(#b09)"/>
<ellipse cx="32" cy="32.5" rx="14.8" ry="13.2" fill="#24349c" opacity="1" filter="url(#b10)"/>
</g>
</svg>
<svg x="96" y="1029.3" width="72" height="67.7" viewBox="0 0 72 68.5" preserveAspectRatio="none" overflow="hidden">
<rect width="72" height="68.5" fill="#000"/>
<g filter="url(#tex3)">
<path d="M2.3 42.3C3.02 40.73 5 38.78 6.9 36.6C8.8 34.42 11.03 31.63 13.7 29.2C16.37 26.77 19.85 24.03 22.9 22C25.95 19.97 28.98 18.45 32 17C35.02 15.55 38.42 14.17 41 13.3C43.58 12.43 45.17 11.88 47.5 11.8C49.83 11.72 52.42 12.13 55 12.8C57.58 13.47 60.83 14.68 63 15.8C65.17 16.92 67.58 17.8 68 19.5C68.42 21.2 67.17 23.83 65.5 26C63.83 28.17 60.92 30.25 58 32.5C55.08 34.75 51.38 37.33 48 39.5C44.62 41.67 41.52 43.83 37.7 45.5C33.88 47.17 29.1 48.62 25.1 49.5C21.1 50.38 17.12 50.63 13.7 50.8C10.28 50.97 6.45 51.3 4.6 50.5C2.75 49.7 2.98 47.37 2.6 46C2.22 44.63 1.58 43.87 2.3 42.3Z" fill="#30a830" opacity="1" filter="url(#b09)"/>
<ellipse cx="28" cy="35" rx="8.6" ry="9" fill="#227a22" opacity="1" filter="url(#b16)" transform="rotate(-10 28 35)"/>
<ellipse cx="29.7" cy="33.1" rx="4" ry="3.5" fill="#185c18" opacity="1" filter="url(#b12)"/>
<ellipse cx="45" cy="25" rx="9" ry="6" fill="#3ab83a" opacity="0.6" filter="url(#b20)" transform="rotate(-20 45 25)"/>
</g>
</svg>
<svg x="171.2" y="1029.3" width="71.1" height="67.7" viewBox="0 0 72 68.5" preserveAspectRatio="none" overflow="hidden">
<rect width="72" height="68.5" fill="#000"/>
<g filter="url(#tex0)">
<path d="M5.7 26.3C5.88 23.43 6.67 21.5 8 19.4C9.33 17.3 11.22 14.93 13.7 13.7C16.18 12.47 19.85 12 22.9 12C25.95 12 29.53 12.65 32 13.7C34.47 14.75 35.6 16.77 37.7 18.3C39.8 19.83 42.5 21.57 44.6 22.9C46.7 24.23 47.83 25.55 50.3 26.3C52.77 27.05 56.35 26.93 59.4 27.4C62.45 27.87 66.6 28.43 68.6 29.1C70.6 29.77 71.6 30.73 71.4 31.4C71.2 32.07 69.78 32.62 67.4 33.1C65.02 33.58 60.15 33.92 57.1 34.3C54.05 34.68 51.38 34.27 49.1 35.4C46.82 36.53 45.48 39 43.4 41.1C41.32 43.2 39.07 46.08 36.6 48C34.13 49.92 31.27 51.08 28.6 52.6C25.93 54.12 23.08 55.77 20.6 57.1C18.12 58.43 15.23 61.17 13.7 60.6C12.17 60.03 12.17 56.18 11.4 53.7C10.63 51.22 9.85 48.55 9.1 45.7C8.35 42.85 7.47 39.83 6.9 36.6C6.33 33.37 5.52 29.17 5.7 26.3Z" fill="#3cc83c" opacity="1" filter="url(#b08)"/>
<ellipse cx="21" cy="25" rx="12" ry="10" fill="#207e20" opacity="1" filter="url(#b15)"/>
<ellipse cx="18.3" cy="45" rx="5.7" ry="5" fill="#1e7a1e" opacity="1" filter="url(#b15)"/>
<ellipse cx="29" cy="38" rx="6" ry="6" fill="#4ae84a" opacity="0.8" filter="url(#b16)"/>
</g>
</svg>
<svg x="245.8" y="1029.3" width="71.2" height="67.7" viewBox="0 0 72 68.5" preserveAspectRatio="none" overflow="hidden">
<rect width="72" height="68.5" fill="#000"/>
<g filter="url(#tex1)">
<path d="M12.6 28.6C13.45 26.7 15.02 24.33 17.1 22.9C19.18 21.47 22.43 20.87 25.1 20C27.77 19.13 30.8 17.6 33.1 17.7C35.4 17.8 36.42 19.17 38.9 20.6C41.38 22.03 44.97 24.78 48 26.3C51.03 27.82 54.53 28.57 57.1 29.7C59.67 30.83 62.63 31 63.4 33.1C64.17 35.2 63.32 39.63 61.7 42.3C60.08 44.97 56.37 47.38 53.7 49.1C51.03 50.82 48.55 51.83 45.7 52.6C42.85 53.37 39.83 53.98 36.6 53.7C33.37 53.42 29.55 52.03 26.3 50.9C23.05 49.77 19.38 48.53 17.1 46.9C14.82 45.27 13.45 43.2 12.6 41.1C11.75 39 12 36.38 12 34.3C12 32.22 11.75 30.5 12.6 28.6Z" fill="#3ccc3c" opacity="1" filter="url(#b09)"/>
<g fill="#0e3a0e" filter="url(#b06)"><circle cx="23.5" cy="25.7" r="1.28"/><circle cx="56.9" cy="30.8" r="1.35"/><circle cx="57.1" cy="38.5" r="1.37"/><circle cx="25.7" cy="23.8" r="0.87"/><circle cx="19.6" cy="38.6" r="1.13"/><circle cx="21.9" cy="30.4" r="0.93"/><circle cx="34.2" cy="51" r="1.26"/><circle cx="49" cy="48.6" r="0.88"/><circle cx="24.4" cy="27.3" r="0.8"/><circle cx="58.5" cy="34.3" r="0.97"/><circle cx="57" cy="32.6" r="1.21"/></g>
<g fill="#58ee58" filter="url(#b06)"><circle cx="48.9" cy="49.3" r="1.76"/><circle cx="19.1" cy="37.7" r="1.95"/><circle cx="39.6" cy="48" r="1.45"/><circle cx="22.2" cy="29.7" r="1.95"/><circle cx="40.1" cy="49.1" r="1.05"/><circle cx="59.7" cy="35.8" r="2.05"/><circle cx="24.4" cy="27.9" r="1.39"/><circle cx="19.4" cy="36.2" r="2.14"/><circle cx="25.3" cy="45.4" r="1.98"/><circle cx="54" cy="47.8" r="1.54"/><circle cx="19.3" cy="31.6" r="1.58"/><circle cx="45" cy="47.2" r="2.04"/><circle cx="40.1" cy="51.8" r="1.25"/><circle cx="52.6" cy="46" r="1.99"/><circle cx="44.8" cy="51.8" r="2.07"/><circle cx="21.3" cy="43.4" r="1.54"/><circle cx="20.7" cy="47.2" r="1.46"/><circle cx="56.2" cy="38.1" r="1.86"/><circle cx="58.5" cy="35.3" r="1.59"/><circle cx="17.3" cy="31.1" r="1.27"/><circle cx="21.9" cy="26.7" r="1.75"/><circle cx="46" cy="47.7" r="1.42"/><circle cx="31.6" cy="47.7" r="1.08"/><circle cx="29.3" cy="21.9" r="2.08"/><circle cx="57.4" cy="32.4" r="2.19"/><circle cx="58.3" cy="32.4" r="2.06"/><circle cx="18.2" cy="36.8" r="1.3"/><circle cx="33" cy="49.7" r="1.2"/><circle cx="55.8" cy="41.8" r="2.08"/><circle cx="59.6" cy="34.4" r="1.57"/><circle cx="37.7" cy="52.8" r="1.63"/><circle cx="35.6" cy="24" r="1.25"/><circle cx="21.8" cy="27.6" r="1.7"/><circle cx="34.5" cy="51.6" r="1.01"/></g>
<ellipse cx="37.7" cy="36.6" rx="16.2" ry="14.3" fill="#134a13" opacity="1" filter="url(#b14)"/>
</g>
</svg>
<svg x="96" y="1101.2" width="72" height="68.3" viewBox="0 0 72 68.5" preserveAspectRatio="none" overflow="hidden">
<rect width="72" height="68.5" fill="#000"/>
<g filter="url(#tex2)">
<path d="M2.3 42.3C3.02 40.73 5 38.78 6.9 36.6C8.8 34.42 11.03 31.63 13.7 29.2C16.37 26.77 19.85 24.03 22.9 22C25.95 19.97 28.98 18.45 32 17C35.02 15.55 38.42 14.17 41 13.3C43.58 12.43 45.17 11.88 47.5 11.8C49.83 11.72 52.42 12.13 55 12.8C57.58 13.47 60.83 14.68 63 15.8C65.17 16.92 67.58 17.8 68 19.5C68.42 21.2 67.17 23.83 65.5 26C63.83 28.17 60.92 30.25 58 32.5C55.08 34.75 51.38 37.33 48 39.5C44.62 41.67 41.52 43.83 37.7 45.5C33.88 47.17 29.1 48.62 25.1 49.5C21.1 50.38 17.12 50.63 13.7 50.8C10.28 50.97 6.45 51.3 4.6 50.5C2.75 49.7 2.98 47.37 2.6 46C2.22 44.63 1.58 43.87 2.3 42.3Z" fill="url(#gA4)" opacity="1" filter="url(#b09)"/>
<ellipse cx="26.6" cy="34.9" rx="11.7" ry="10.9" fill="#3a8a70" opacity="0.95" filter="url(#b12)" transform="rotate(-10 26.6 34.9)"/>
<ellipse cx="28" cy="33" rx="5" ry="4.5" fill="#2e5ea8" opacity="0.8" filter="url(#b12)"/>
<ellipse cx="22" cy="28" rx="2.5" ry="2.2" fill="#3050c0" opacity="0.8" filter="url(#b08)"/>
<ellipse cx="22" cy="42" rx="2.5" ry="2.2" fill="#3050c0" opacity="0.8" filter="url(#b08)"/>
</g>
</svg>
<svg x="171.2" y="1101.2" width="71.1" height="68.3" viewBox="0 0 72 68.5" preserveAspectRatio="none" overflow="hidden">
<rect width="72" height="68.5" fill="#000"/>
<g filter="url(#tex3)">
<ellipse cx="31" cy="63" rx="11.5" ry="7" fill="#1e1ec0" opacity="1" filter="url(#b22)"/>
<ellipse cx="62" cy="52" rx="4" ry="5" fill="#14147e" opacity="0.6" filter="url(#b25)"/>
<path d="M5.7 26.3C5.88 23.43 6.67 21.5 8 19.4C9.33 17.3 11.22 14.93 13.7 13.7C16.18 12.47 19.85 12 22.9 12C25.95 12 29.53 12.65 32 13.7C34.47 14.75 35.6 16.77 37.7 18.3C39.8 19.83 42.5 21.57 44.6 22.9C46.7 24.23 47.83 25.55 50.3 26.3C52.77 27.05 56.35 26.93 59.4 27.4C62.45 27.87 66.6 28.43 68.6 29.1C70.6 29.77 71.6 30.73 71.4 31.4C71.2 32.07 69.78 32.62 67.4 33.1C65.02 33.58 60.15 33.92 57.1 34.3C54.05 34.68 51.38 34.27 49.1 35.4C46.82 36.53 45.48 39 43.4 41.1C41.32 43.2 39.07 46.08 36.6 48C34.13 49.92 31.27 51.08 28.6 52.6C25.93 54.12 23.08 55.77 20.6 57.1C18.12 58.43 15.23 61.17 13.7 60.6C12.17 60.03 12.17 56.18 11.4 53.7C10.63 51.22 9.85 48.55 9.1 45.7C8.35 42.85 7.47 39.83 6.9 36.6C6.33 33.37 5.52 29.17 5.7 26.3Z" fill="#dcd62a" opacity="1" filter="url(#b08)"/>
<ellipse cx="21" cy="23.5" rx="13.5" ry="11" fill="#4a8a9a" opacity="1" filter="url(#b10)"/>
<ellipse cx="18.3" cy="45" rx="5.7" ry="5" fill="#8a8420" opacity="0.9" filter="url(#b15)"/>
</g>
</svg>
<svg x="245.8" y="1101.2" width="71.2" height="68.3" viewBox="0 0 72 68.5" preserveAspectRatio="none" overflow="hidden">
<rect width="72" height="68.5" fill="#000"/>
<g filter="url(#tex0)">
<ellipse cx="57" cy="12" rx="15" ry="15" fill="#1c1cb0" opacity="0.85" filter="url(#b30)"/>
<ellipse cx="68" cy="40" rx="5" ry="20" fill="#1a1aa0" opacity="0.7" filter="url(#b30)"/>
<ellipse cx="2" cy="62" rx="6" ry="8" fill="#1a1a90" opacity="0.7" filter="url(#b25)"/>
<path d="M12.6 28.6C13.45 26.7 15.02 24.33 17.1 22.9C19.18 21.47 22.43 20.87 25.1 20C27.77 19.13 30.8 17.6 33.1 17.7C35.4 17.8 36.42 19.17 38.9 20.6C41.38 22.03 44.97 24.78 48 26.3C51.03 27.82 54.53 28.57 57.1 29.7C59.67 30.83 62.63 31 63.4 33.1C64.17 35.2 63.32 39.63 61.7 42.3C60.08 44.97 56.37 47.38 53.7 49.1C51.03 50.82 48.55 51.83 45.7 52.6C42.85 53.37 39.83 53.98 36.6 53.7C33.37 53.42 29.55 52.03 26.3 50.9C23.05 49.77 19.38 48.53 17.1 46.9C14.82 45.27 13.45 43.2 12.6 41.1C11.75 39 12 36.38 12 34.3C12 32.22 11.75 30.5 12.6 28.6Z" fill="#88c030" opacity="1" filter="url(#b09)"/>
<g fill="#2a4a10" filter="url(#b06)"><circle cx="23.5" cy="25.7" r="1.28"/><circle cx="56.9" cy="30.8" r="1.35"/><circle cx="57.1" cy="38.5" r="1.37"/><circle cx="25.7" cy="23.8" r="0.87"/><circle cx="19.6" cy="38.6" r="1.13"/><circle cx="21.9" cy="30.4" r="0.93"/><circle cx="34.2" cy="51" r="1.26"/><circle cx="49" cy="48.6" r="0.88"/><circle cx="24.4" cy="27.3" r="0.8"/><circle cx="58.5" cy="34.3" r="0.97"/><circle cx="57" cy="32.6" r="1.21"/></g>
<g fill="#e4e236" filter="url(#b06)"><circle cx="48.9" cy="49.3" r="1.76"/><circle cx="39.6" cy="48" r="1.45"/><circle cx="40.1" cy="49.1" r="1.05"/><circle cx="24.4" cy="27.9" r="1.39"/><circle cx="25.3" cy="45.4" r="1.98"/><circle cx="19.3" cy="31.6" r="1.58"/><circle cx="40.1" cy="51.8" r="1.25"/><circle cx="44.8" cy="51.8" r="2.07"/><circle cx="20.7" cy="47.2" r="1.46"/><circle cx="58.5" cy="35.3" r="1.59"/><circle cx="21.9" cy="26.7" r="1.75"/><circle cx="31.6" cy="47.7" r="1.08"/><circle cx="57.4" cy="32.4" r="2.19"/><circle cx="18.2" cy="36.8" r="1.3"/><circle cx="55.8" cy="41.8" r="2.08"/><circle cx="37.7" cy="52.8" r="1.63"/><circle cx="21.8" cy="27.6" r="1.7"/></g>
<g fill="#70e040" filter="url(#b06)"><circle cx="19.1" cy="37.7" r="1.95"/><circle cx="22.2" cy="29.7" r="1.95"/><circle cx="59.7" cy="35.8" r="2.05"/><circle cx="19.4" cy="36.2" r="2.14"/><circle cx="54" cy="47.8" r="1.54"/><circle cx="45" cy="47.2" r="2.04"/><circle cx="52.6" cy="46" r="1.99"/><circle cx="21.3" cy="43.4" r="1.54"/><circle cx="56.2" cy="38.1" r="1.86"/><circle cx="17.3" cy="31.1" r="1.27"/><circle cx="46" cy="47.7" r="1.42"/><circle cx="29.3" cy="21.9" r="2.08"/><circle cx="58.3" cy="32.4" r="2.06"/><circle cx="33" cy="49.7" r="1.2"/><circle cx="59.6" cy="34.4" r="1.57"/><circle cx="35.6" cy="24" r="1.25"/><circle cx="34.5" cy="51.6" r="1.01"/></g>
<ellipse cx="37.7" cy="36.6" rx="16.2" ry="14.3" fill="#2c40a4" opacity="1" filter="url(#b12)"/>
</g>
</svg>
<svg x="363.3" y="878.3" width="71.7" height="68.3" viewBox="0 0 72 68.5" preserveAspectRatio="none" overflow="hidden">
<rect width="72" height="68.5" fill="#000"/>
<g filter="url(#tex1)">
<path d="M9.7 37.7C9.7 35.03 10.17 32.75 11.4 29.7C12.63 26.65 14.82 21.87 17.1 19.4C19.38 16.93 22.23 15.95 25.1 14.9C27.97 13.85 30.48 13.4 34.3 13.1C38.12 12.8 44.2 12.62 48 13.1C51.8 13.58 54.62 14.57 57.1 16C59.58 17.43 61.37 19.03 62.9 21.7C64.43 24.37 65.93 28.57 66.3 32C66.67 35.43 66.25 39.25 65.1 42.3C63.95 45.35 62.07 48.02 59.4 50.3C56.73 52.58 52.9 54.77 49.1 56C45.3 57.23 40.6 57.7 36.6 57.7C32.6 57.7 28.35 57.05 25.1 56C21.85 54.95 19.38 53.12 17.1 51.4C14.82 49.68 12.63 47.98 11.4 45.7C10.17 43.42 9.7 40.37 9.7 37.7Z" fill="#2e942e" opacity="1" filter="url(#b09)"/>
<path d="M20 30C20.83 26.67 23 22 26 20C29 18 34.67 17.33 38 18C41.33 18.67 44.5 21 46 24C47.5 27 48 32.33 47 36C46 39.67 43.17 44.17 40 46C36.83 47.83 31.17 48 28 47C24.83 46 22.33 42.83 21 40C19.67 37.17 19.17 33.33 20 30Z" fill="none" stroke="#237a23" stroke-width="1.6" opacity="0.9" filter="url(#b12)"/>
<ellipse cx="31.4" cy="29" rx="6.5" ry="8.6" fill="#155a15" opacity="1" filter="url(#b16)"/>
<ellipse cx="22" cy="40" rx="5" ry="4" fill="#257c25" opacity="0.8" filter="url(#b18)"/>
<ellipse cx="46" cy="35" rx="6" ry="10" fill="#267e26" opacity="0.6" filter="url(#b20)"/>
</g>
</svg>
<svg x="438.6" y="878.3" width="71.8" height="68.3" viewBox="0 0 72 68.5" preserveAspectRatio="none" overflow="hidden">
<rect width="72" height="68.5" fill="#000"/>
<g filter="url(#tex2)">
<ellipse cx="66" cy="12" rx="8" ry="14" fill="#185a18" opacity="0.5" filter="url(#b30)"/>
<path d="M14.3 60.6C13.82 58.22 13.32 52.92 13.7 49.1C14.08 45.28 15.17 41.32 16.6 37.7C18.03 34.08 20.02 30.63 22.3 27.4C24.58 24.17 27.45 20.97 30.3 18.3C33.15 15.63 36.35 13.12 39.4 11.4C42.45 9.68 45.55 8.75 48.6 8C51.65 7.25 55.8 5.95 57.7 6.9C59.6 7.85 60 11.23 60 13.7C60 16.17 58.47 19.03 57.7 21.7C56.93 24.37 55.97 26.65 55.4 29.7C54.83 32.75 55.25 36.95 54.3 40C53.35 43.05 51.6 45.52 49.7 48C47.8 50.48 45.57 52.8 42.9 54.9C40.23 57 36.75 59.18 33.7 60.6C30.65 62.02 27.45 62.93 24.6 63.4C21.75 63.87 18.32 63.87 16.6 63.4C14.88 62.93 14.78 62.98 14.3 60.6Z" fill="#2c922c" opacity="1" filter="url(#b09)"/>
<ellipse cx="37.7" cy="38.3" rx="8.6" ry="5" fill="#165816" opacity="1" filter="url(#b13)" transform="rotate(-10 37.7 38.3)"/>
<ellipse cx="44" cy="21.1" rx="2.2" ry="1.6" fill="#74f474" opacity="1" filter="url(#b07)"/>
</g>
</svg>
<svg x="514.2" y="878.3" width="71.5" height="68.3" viewBox="0 0 72 68.5" preserveAspectRatio="none" overflow="hidden">
<rect width="72" height="68.5" fill="#000"/>
<g filter="url(#tex3)">
<path d="M49 2.3C50.9 3.72 52.53 7.97 53.7 11.4C54.87 14.83 55.8 19.08 56 22.9C56.2 26.72 55.85 30.5 54.9 34.3C53.95 38.1 52.22 42.27 50.3 45.7C48.38 49.13 46.07 51.85 43.4 54.9C40.73 57.95 37.35 61.92 34.3 64C31.25 66.08 27.77 67.4 25.1 67.4C22.43 67.4 20 66.08 18.3 64C16.6 61.92 15.67 58.33 14.9 54.9C14.13 51.47 13.8 46.83 13.7 43.4C13.6 39.97 13.73 37.35 14.3 34.3C14.87 31.25 15.48 28.33 17.1 25.1C18.72 21.87 21.33 17.93 24 14.9C26.67 11.87 30.05 8.9 33.1 6.9C36.15 4.9 39.65 3.67 42.3 2.9C44.95 2.13 47.1 0.88 49 2.3Z" fill="#2c962c" opacity="1" filter="url(#b09)"/>
<ellipse cx="30" cy="52" rx="15" ry="13" fill="#34b234" opacity="1" filter="url(#b20)"/>
<g fill="#5cf05c" filter="url(#b05)"><circle cx="32.8" cy="38.7" r="1.34"/><circle cx="35.4" cy="43.3" r="1.23"/><circle cx="17.5" cy="55" r="1.15"/><circle cx="16.7" cy="52.2" r="0.92"/><circle cx="16.8" cy="43.3" r="1.22"/><circle cx="21.2" cy="38.7" r="0.96"/><circle cx="21.8" cy="49.9" r="0.7"/><circle cx="25.1" cy="65.5" r="1.24"/><circle cx="26.6" cy="59.9" r="0.77"/><circle cx="30.4" cy="57.9" r="1.11"/><circle cx="17.5" cy="40.2" r="0.79"/><circle cx="34.2" cy="39.7" r="1.29"/><circle cx="22" cy="64.2" r="1.31"/><circle cx="48.5" cy="41.1" r="0.83"/><circle cx="21.1" cy="49.2" r="0.66"/><circle cx="23.4" cy="38.7" r="1.28"/><circle cx="29" cy="60.3" r="1.38"/><circle cx="41.5" cy="47.3" r="1.07"/><circle cx="34.1" cy="49.9" r="0.86"/><circle cx="36.8" cy="50.3" r="1.32"/><circle cx="44.9" cy="48.1" r="1.23"/><circle cx="37.9" cy="43" r="0.91"/><circle cx="38.3" cy="41.9" r="0.66"/><circle cx="30.1" cy="50.2" r="1.06"/><circle cx="32.3" cy="56.9" r="0.67"/><circle cx="23.4" cy="47.8" r="1"/><circle cx="26.4" cy="46.4" r="0.76"/><circle cx="20.9" cy="61.3" r="1.13"/><circle cx="32.4" cy="60.4" r="0.86"/><circle cx="31.9" cy="54.8" r="1.33"/><circle cx="27" cy="56.9" r="1.39"/><circle cx="15.7" cy="43.3" r="0.96"/><circle cx="40.3" cy="44.9" r="1.25"/><circle cx="33.7" cy="48.8" r="0.74"/><circle cx="39.7" cy="51.5" r="0.91"/><circle cx="32.9" cy="43" r="1.33"/><circle cx="29.6" cy="39.3" r="1.3"/><circle cx="33.3" cy="44.7" r="0.76"/><circle cx="40.8" cy="49" r="0.77"/><circle cx="32.4" cy="38.1" r="1.21"/><circle cx="27.9" cy="53.6" r="0.71"/><circle cx="44.5" cy="43.9" r="1.02"/><circle cx="49.4" cy="38.8" r="0.85"/><circle cx="29.8" cy="57.3" r="1.32"/><circle cx="22.5" cy="57.7" r="1.37"/><circle cx="35.9" cy="39.6" r="0.76"/><circle cx="30.6" cy="54.4" r="1.05"/><circle cx="34.5" cy="47.3" r="0.65"/><circle cx="21.8" cy="42.5" r="1.34"/><circle cx="19.2" cy="53" r="0.62"/><circle cx="28.7" cy="42.6" r="0.68"/><circle cx="40.4" cy="43.9" r="1.02"/><circle cx="49.7" cy="42.1" r="1.29"/><circle cx="23.5" cy="50.5" r="1.25"/><circle cx="27" cy="62.4" r="0.77"/><circle cx="17.8" cy="56.5" r="0.94"/><circle cx="30.7" cy="46.9" r="0.61"/><circle cx="22.2" cy="46.7" r="1.33"/><circle cx="35.1" cy="51.7" r="1"/><circle cx="35.5" cy="39.3" r="0.72"/><circle cx="33.2" cy="52.1" r="0.86"/><circle cx="31.9" cy="41.4" r="0.61"/><circle cx="24.6" cy="61.6" r="1.2"/><circle cx="30.9" cy="60.7" r="1.3"/><circle cx="43.1" cy="52.2" r="1.21"/><circle cx="30.9" cy="49.3" r="0.66"/><circle cx="40.7" cy="42.9" r="0.79"/><circle cx="28" cy="45.3" r="1.06"/><circle cx="43.4" cy="51.9" r="1.38"/><circle cx="40.7" cy="55" r="0.66"/></g>
<ellipse cx="36" cy="25.7" rx="17.5" ry="13" fill="#0a300a" opacity="1" filter="url(#b15)" transform="rotate(-20 36 25.7)"/>
<path d="M21.5 29C19.67 27.83 21 23.58 22 21.5C23 19.42 25.33 17.75 27.5 16.5C29.67 15.25 32.92 14.08 35 14C37.08 13.92 39.33 14.42 40 16C40.67 17.58 40.17 21.42 39 23.5C37.83 25.58 35.92 27.58 33 28.5C30.08 29.42 23.33 30.17 21.5 29Z" fill="#48ec48" opacity="1" filter="url(#b08)"/>
</g>
</svg>
<svg x="363.3" y="949.4" width="71.7" height="68.6" viewBox="0 0 72 68.5" preserveAspectRatio="none" overflow="hidden">
<rect width="72" height="68.5" fill="#000"/>
<g filter="url(#tex0)">
<ellipse cx="71" cy="25" rx="2.5" ry="8" fill="#1a1ab0" opacity="0.9" filter="url(#b15)"/>
<path d="M9.7 37.7C9.7 35.03 10.17 32.75 11.4 29.7C12.63 26.65 14.82 21.87 17.1 19.4C19.38 16.93 22.23 15.95 25.1 14.9C27.97 13.85 30.48 13.4 34.3 13.1C38.12 12.8 44.2 12.62 48 13.1C51.8 13.58 54.62 14.57 57.1 16C59.58 17.43 61.37 19.03 62.9 21.7C64.43 24.37 65.93 28.57 66.3 32C66.67 35.43 66.25 39.25 65.1 42.3C63.95 45.35 62.07 48.02 59.4 50.3C56.73 52.58 52.9 54.77 49.1 56C45.3 57.23 40.6 57.7 36.6 57.7C32.6 57.7 28.35 57.05 25.1 56C21.85 54.95 19.38 53.12 17.1 51.4C14.82 49.68 12.63 47.98 11.4 45.7C10.17 43.42 9.7 40.37 9.7 37.7Z" fill="#2e902e" opacity="1" filter="url(#b09)"/>
<ellipse cx="34.3" cy="33" rx="13.7" ry="14.8" fill="#ec962e" opacity="1" filter="url(#b14)"/>
<ellipse cx="32" cy="27.4" rx="7" ry="5.7" fill="#2c4a8a" opacity="1" filter="url(#b13)"/>
<ellipse cx="34.3" cy="40" rx="3" ry="2" fill="#5a5a6a" opacity="0.8" filter="url(#b10)"/>
</g>
</svg>
<svg x="438.6" y="949.4" width="71.8" height="68.6" viewBox="0 0 72 68.5" preserveAspectRatio="none" overflow="hidden">
<rect width="72" height="68.5" fill="#000"/>
<g filter="url(#tex1)">
<ellipse cx="68" cy="56" rx="6" ry="14" fill="#1414a0" opacity="0.9" filter="url(#b25)"/>
<ellipse cx="68" cy="15" rx="5" ry="16" fill="#10106a" opacity="0.6" filter="url(#b30)"/>
<path d="M14.3 60.6C13.82 58.22 13.32 52.92 13.7 49.1C14.08 45.28 15.17 41.32 16.6 37.7C18.03 34.08 20.02 30.63 22.3 27.4C24.58 24.17 27.45 20.97 30.3 18.3C33.15 15.63 36.35 13.12 39.4 11.4C42.45 9.68 45.55 8.75 48.6 8C51.65 7.25 55.8 5.95 57.7 6.9C59.6 7.85 60 11.23 60 13.7C60 16.17 58.47 19.03 57.7 21.7C56.93 24.37 55.97 26.65 55.4 29.7C54.83 32.75 55.25 36.95 54.3 40C53.35 43.05 51.6 45.52 49.7 48C47.8 50.48 45.57 52.8 42.9 54.9C40.23 57 36.75 59.18 33.7 60.6C30.65 62.02 27.45 62.93 24.6 63.4C21.75 63.87 18.32 63.87 16.6 63.4C14.88 62.93 14.78 62.98 14.3 60.6Z" fill="#2c8c2c" opacity="1" filter="url(#b09)"/>
<ellipse cx="41.5" cy="36.6" rx="13" ry="13.2" fill="#c8a22a" opacity="1" filter="url(#b13)" transform="rotate(-10 41.5 36.6)"/>
<ellipse cx="38" cy="37" rx="9.7" ry="5.2" fill="#2c4e94" opacity="1" filter="url(#b12)" transform="rotate(-10 38 37)"/>
<ellipse cx="44" cy="21" rx="2.2" ry="1.6" fill="#74f474" opacity="1" filter="url(#b07)"/>
</g>
</svg>
<svg x="514.2" y="949.4" width="71.5" height="68.6" viewBox="0 0 72 68.5" preserveAspectRatio="none" overflow="hidden">
<rect width="72" height="68.5" fill="#000"/>
<g filter="url(#tex2)">
<ellipse cx="66" cy="9" rx="7" ry="9" fill="#1c1cb0" opacity="0.9" filter="url(#b25)"/>
<path d="M49 2.3C50.9 3.72 52.53 7.97 53.7 11.4C54.87 14.83 55.8 19.08 56 22.9C56.2 26.72 55.85 30.5 54.9 34.3C53.95 38.1 52.22 42.27 50.3 45.7C48.38 49.13 46.07 51.85 43.4 54.9C40.73 57.95 37.35 61.92 34.3 64C31.25 66.08 27.77 67.4 25.1 67.4C22.43 67.4 20 66.08 18.3 64C16.6 61.92 15.67 58.33 14.9 54.9C14.13 51.47 13.8 46.83 13.7 43.4C13.6 39.97 13.73 37.35 14.3 34.3C14.87 31.25 15.48 28.33 17.1 25.1C18.72 21.87 21.33 17.93 24 14.9C26.67 11.87 30.05 8.9 33.1 6.9C36.15 4.9 39.65 3.67 42.3 2.9C44.95 2.13 47.1 0.88 49 2.3Z" fill="#2c902c" opacity="1" filter="url(#b09)"/>
<ellipse cx="30" cy="52" rx="15" ry="13" fill="#3aae30" opacity="1" filter="url(#b20)"/>
<g fill="#7ae44a" filter="url(#b05)"><circle cx="32.8" cy="38.7" r="1.34"/><circle cx="35.4" cy="43.3" r="1.23"/><circle cx="17.5" cy="55" r="1.15"/><circle cx="16.7" cy="52.2" r="0.92"/><circle cx="16.8" cy="43.3" r="1.22"/><circle cx="21.2" cy="38.7" r="0.96"/><circle cx="21.8" cy="49.9" r="0.7"/><circle cx="25.1" cy="65.5" r="1.24"/><circle cx="26.6" cy="59.9" r="0.77"/><circle cx="30.4" cy="57.9" r="1.11"/><circle cx="17.5" cy="40.2" r="0.79"/><circle cx="34.2" cy="39.7" r="1.29"/><circle cx="22" cy="64.2" r="1.31"/><circle cx="48.5" cy="41.1" r="0.83"/><circle cx="21.1" cy="49.2" r="0.66"/><circle cx="23.4" cy="38.7" r="1.28"/><circle cx="29" cy="60.3" r="1.38"/><circle cx="41.5" cy="47.3" r="1.07"/><circle cx="34.1" cy="49.9" r="0.86"/><circle cx="36.8" cy="50.3" r="1.32"/><circle cx="44.9" cy="48.1" r="1.23"/><circle cx="37.9" cy="43" r="0.91"/><circle cx="38.3" cy="41.9" r="0.66"/><circle cx="30.1" cy="50.2" r="1.06"/><circle cx="32.3" cy="56.9" r="0.67"/><circle cx="23.4" cy="47.8" r="1"/><circle cx="26.4" cy="46.4" r="0.76"/><circle cx="20.9" cy="61.3" r="1.13"/><circle cx="32.4" cy="60.4" r="0.86"/><circle cx="31.9" cy="54.8" r="1.33"/><circle cx="27" cy="56.9" r="1.39"/><circle cx="15.7" cy="43.3" r="0.96"/><circle cx="40.3" cy="44.9" r="1.25"/><circle cx="33.7" cy="48.8" r="0.74"/><circle cx="39.7" cy="51.5" r="0.91"/><circle cx="32.9" cy="43" r="1.33"/><circle cx="29.6" cy="39.3" r="1.3"/><circle cx="33.3" cy="44.7" r="0.76"/><circle cx="40.8" cy="49" r="0.77"/><circle cx="32.4" cy="38.1" r="1.21"/><circle cx="27.9" cy="53.6" r="0.71"/><circle cx="44.5" cy="43.9" r="1.02"/><circle cx="49.4" cy="38.8" r="0.85"/><circle cx="29.8" cy="57.3" r="1.32"/><circle cx="22.5" cy="57.7" r="1.37"/><circle cx="35.9" cy="39.6" r="0.76"/><circle cx="30.6" cy="54.4" r="1.05"/><circle cx="34.5" cy="47.3" r="0.65"/><circle cx="21.8" cy="42.5" r="1.34"/><circle cx="19.2" cy="53" r="0.62"/><circle cx="28.7" cy="42.6" r="0.68"/><circle cx="40.4" cy="43.9" r="1.02"/><circle cx="49.7" cy="42.1" r="1.29"/><circle cx="23.5" cy="50.5" r="1.25"/><circle cx="27" cy="62.4" r="0.77"/><circle cx="17.8" cy="56.5" r="0.94"/><circle cx="30.7" cy="46.9" r="0.61"/><circle cx="22.2" cy="46.7" r="1.33"/><circle cx="35.1" cy="51.7" r="1"/><circle cx="35.5" cy="39.3" r="0.72"/><circle cx="33.2" cy="52.1" r="0.86"/><circle cx="31.9" cy="41.4" r="0.61"/><circle cx="24.6" cy="61.6" r="1.2"/><circle cx="30.9" cy="60.7" r="1.3"/><circle cx="43.1" cy="52.2" r="1.21"/><circle cx="30.9" cy="49.3" r="0.66"/><circle cx="40.7" cy="42.9" r="0.79"/><circle cx="28" cy="45.3" r="1.06"/><circle cx="43.4" cy="51.9" r="1.38"/><circle cx="40.7" cy="55" r="0.66"/></g>
<ellipse cx="35" cy="27.4" rx="15.5" ry="13.7" fill="#4a2a8c" opacity="1" filter="url(#b14)" transform="rotate(-20 35 27.4)"/>
<path d="M21.5 29C19.67 27.83 21 23.58 22 21.5C23 19.42 25.33 17.75 27.5 16.5C29.67 15.25 32.92 14.08 35 14C37.08 13.92 39.33 14.42 40 16C40.67 17.58 40.17 21.42 39 23.5C37.83 25.58 35.92 27.58 33 28.5C30.08 29.42 23.33 30.17 21.5 29Z" fill="#64e040" opacity="1" filter="url(#b08)"/>
<ellipse cx="36.5" cy="30" rx="7.2" ry="5.6" fill="#f42262" opacity="1" filter="url(#b10)" transform="rotate(-20 36.5 30)"/>
</g>
</svg>
<svg x="363.3" y="1029.3" width="71.7" height="67.7" viewBox="0 0 72 68.5" preserveAspectRatio="none" overflow="hidden">
<rect width="72" height="68.5" fill="#000"/>
<g filter="url(#tex3)">
<path d="M11.4 37.7C11.78 33.7 13.18 28.33 14.9 25.1C16.62 21.87 18.85 20 21.7 18.3C24.55 16.6 28.38 15.67 32 14.9C35.62 14.13 39.78 13.33 43.4 13.7C47.02 14.07 51.03 15.38 53.7 17.1C56.37 18.82 58.45 21.13 59.4 24C60.35 26.87 60.15 30.87 59.4 34.3C58.65 37.73 56.98 41.55 54.9 44.6C52.82 47.65 49.95 50.13 46.9 52.6C43.85 55.07 39.85 57.88 36.6 59.4C33.35 60.92 30.45 62.08 27.4 61.7C24.35 61.32 20.77 59.2 18.3 57.1C15.83 55 13.75 52.33 12.6 49.1C11.45 45.87 11.02 41.7 11.4 37.7Z" fill="#124a12" opacity="1" filter="url(#b12)"/>
<path d="M11.4 37.7C11.78 33.7 13.18 28.33 14.9 25.1C16.62 21.87 18.85 20 21.7 18.3C24.55 16.6 28.38 15.67 32 14.9C35.62 14.13 39.78 13.33 43.4 13.7C47.02 14.07 51.03 15.38 53.7 17.1C56.37 18.82 58.45 21.13 59.4 24C60.35 26.87 60.15 30.87 59.4 34.3C58.65 37.73 56.98 41.55 54.9 44.6C52.82 47.65 49.95 50.13 46.9 52.6C43.85 55.07 39.85 57.88 36.6 59.4C33.35 60.92 30.45 62.08 27.4 61.7C24.35 61.32 20.77 59.2 18.3 57.1C15.83 55 13.75 52.33 12.6 49.1C11.45 45.87 11.02 41.7 11.4 37.7Z" fill="none" stroke="#1e6e1e" stroke-width="1.6" opacity="0.9" filter="url(#b10)"/>
<ellipse cx="38" cy="27" rx="16" ry="9" fill="#0a2c0a" opacity="0.9" filter="url(#b22)"/>
<ellipse cx="23" cy="41" rx="7" ry="7" fill="#2a922a" opacity="0.9" filter="url(#b22)"/>
<ellipse cx="36" cy="45" rx="8" ry="6" fill="#1c661c" opacity="0.7" filter="url(#b22)"/>
</g>
</svg>
<svg x="438.6" y="1029.3" width="71.8" height="67.7" viewBox="0 0 72 68.5" preserveAspectRatio="none" overflow="hidden">
<rect width="72" height="68.5" fill="#000"/>
<g filter="url(#tex0)">
<path d="M10.3 36.6C10.3 33.55 11.67 29.17 13.1 26.3C14.53 23.43 16.42 21.12 18.9 19.4C21.38 17.68 24.58 16.57 28 16C31.42 15.43 35.58 15.82 39.4 16C43.22 16.18 47.47 16.33 50.9 17.1C54.33 17.87 57.63 18.68 60 20.6C62.37 22.52 64.33 25.75 65.1 28.6C65.87 31.45 65.45 34.65 64.6 37.7C63.75 40.75 62.1 44.03 60 46.9C57.9 49.77 55.05 53 52 54.9C48.95 56.8 45.13 57.93 41.7 58.3C38.27 58.67 35.02 58.25 31.4 57.1C27.78 55.95 23.05 53.48 20 51.4C16.95 49.32 14.72 47.07 13.1 44.6C11.48 42.13 10.3 39.65 10.3 36.6Z" fill="#165c16" opacity="1" filter="url(#b10)"/>
<path d="M10.3 36.6C10.3 33.55 11.67 29.17 13.1 26.3C14.53 23.43 16.42 21.12 18.9 19.4C21.38 17.68 24.58 16.57 28 16C31.42 15.43 35.58 15.82 39.4 16C43.22 16.18 47.47 16.33 50.9 17.1C54.33 17.87 57.63 18.68 60 20.6C62.37 22.52 64.33 25.75 65.1 28.6C65.87 31.45 65.45 34.65 64.6 37.7C63.75 40.75 62.1 44.03 60 46.9C57.9 49.77 55.05 53 52 54.9C48.95 56.8 45.13 57.93 41.7 58.3C38.27 58.67 35.02 58.25 31.4 57.1C27.78 55.95 23.05 53.48 20 51.4C16.95 49.32 14.72 47.07 13.1 44.6C11.48 42.13 10.3 39.65 10.3 36.6Z" fill="none" stroke="#237e23" stroke-width="1.6" opacity="0.9" filter="url(#b10)"/>
<ellipse cx="32" cy="35" rx="15.4" ry="14.8" fill="#0e3a0e" opacity="1" filter="url(#b20)"/>
<ellipse cx="51" cy="42" rx="9" ry="12" fill="#34c234" opacity="1" filter="url(#b18)" transform="rotate(-15 51 42)"/>
<g fill="#50ec50" filter="url(#b06)"><circle cx="42" cy="45.2" r="1.14"/><circle cx="46.6" cy="51.5" r="1.05"/><circle cx="46.2" cy="42.3" r="0.75"/><circle cx="46.9" cy="33.2" r="1.23"/><circle cx="46.2" cy="47.7" r="1.19"/><circle cx="47.6" cy="33.4" r="1.06"/><circle cx="51.5" cy="47" r="0.87"/><circle cx="49.4" cy="39.4" r="1.1"/><circle cx="45.3" cy="37.7" r="1.22"/><circle cx="57.1" cy="41.9" r="1.36"/><circle cx="54" cy="45.3" r="0.89"/><circle cx="55.6" cy="46.3" r="1.27"/><circle cx="46.2" cy="38.5" r="0.72"/><circle cx="50.1" cy="32.3" r="0.85"/><circle cx="48.1" cy="36.7" r="1.15"/><circle cx="51.6" cy="50" r="1.38"/><circle cx="51.5" cy="31.7" r="1.34"/><circle cx="48.2" cy="53.9" r="1.43"/><circle cx="59.6" cy="36" r="1.12"/><circle cx="58.9" cy="36.5" r="0.9"/><circle cx="47.9" cy="38.5" r="0.92"/><circle cx="48.2" cy="54.2" r="0.9"/><circle cx="54.8" cy="47.9" r="1.12"/><circle cx="57.3" cy="42.3" r="1.49"/><circle cx="50.2" cy="42.8" r="1.07"/><circle cx="48.1" cy="50.4" r="1.47"/><circle cx="57.7" cy="38.7" r="1.01"/><circle cx="59.5" cy="38" r="1.11"/><circle cx="53.5" cy="49.9" r="1.46"/><circle cx="59.6" cy="38.3" r="1.3"/></g>
</g>
</svg>
<svg x="514.2" y="1029.3" width="71.5" height="67.7" viewBox="0 0 72 68.5" preserveAspectRatio="none" overflow="hidden">
<rect width="72" height="68.5" fill="#000"/>
<g filter="url(#tex1)">
<path d="M8 30.9C8.47 28.42 9.88 24.37 11.4 21.7C12.92 19.03 14.43 16.8 17.1 14.9C19.77 13 23.77 10.88 27.4 10.3C31.03 9.72 35.28 10.63 38.9 11.4C42.52 12.17 46.07 13.37 49.1 14.9C52.13 16.43 55.18 18.32 57.1 20.6C59.02 22.88 60.4 25.75 60.6 28.6C60.8 31.45 60.02 35.03 58.3 37.7C56.58 40.37 53.35 42.7 50.3 44.6C47.25 46.5 43.62 48.15 40 49.1C36.38 50.05 32.03 50.48 28.6 50.3C25.17 50.12 22.07 49.33 19.4 48C16.73 46.67 14.4 44.2 12.6 42.3C10.8 40.4 9.37 38.5 8.6 36.6C7.83 34.7 7.53 33.38 8 30.9Z" fill="#3cec3c" opacity="1" filter="url(#b07)"/>
<g fill="#1a8a1a" filter="url(#b06)"><circle cx="50" cy="23.3" r="0.72"/><circle cx="40.2" cy="16.1" r="0.92"/><circle cx="36.1" cy="18.5" r="0.7"/><circle cx="37.5" cy="27.8" r="0.95"/><circle cx="47.1" cy="44.3" r="0.65"/><circle cx="49.1" cy="31.8" r="0.65"/><circle cx="37" cy="15.2" r="1.07"/><circle cx="57.8" cy="31.5" r="0.71"/><circle cx="48.4" cy="25.7" r="1.07"/><circle cx="47.5" cy="33.3" r="0.63"/><circle cx="45.5" cy="34.3" r="0.84"/><circle cx="39.1" cy="13.1" r="0.61"/><circle cx="54.2" cy="30.7" r="0.94"/><circle cx="49" cy="16.9" r="1.08"/><circle cx="48.4" cy="18.1" r="1.01"/><circle cx="53.1" cy="23.2" r="1.06"/><circle cx="49.1" cy="31.3" r="0.85"/><circle cx="37.6" cy="38.6" r="0.75"/></g>
<path d="M14.9 19.4C17.38 16.73 23.63 14.45 26.3 13.7C28.97 12.95 29.77 12.8 30.9 14.9C32.03 17 31.97 22.5 33.1 26.3C34.23 30.1 36.93 34.47 37.7 37.7C38.47 40.93 39.22 43.98 37.7 45.7C36.18 47.42 31.45 48 28.6 48C25.75 48 23.08 47.22 20.6 45.7C18.12 44.18 15.23 41.57 13.7 38.9C12.17 36.23 11.2 32.95 11.4 29.7C11.6 26.45 12.42 22.07 14.9 19.4Z" fill="#062406" opacity="1" filter="url(#b09)"/>
<ellipse cx="9.5" cy="32" rx="1.8" ry="3.4" fill="#3cec3c" opacity="1" filter="url(#b06)"/>
<ellipse cx="17" cy="42.5" rx="3.2" ry="3.4" fill="#3cec3c" opacity="1" filter="url(#b06)"/>
</g>
</svg>
<svg x="363.3" y="1101.2" width="71.7" height="68.3" viewBox="0 0 72 68.5" preserveAspectRatio="none" overflow="hidden">
<rect width="72" height="68.5" fill="#000"/>
<g filter="url(#tex2)">
<ellipse cx="69" cy="8" rx="4" ry="10" fill="#12127e" opacity="0.8" filter="url(#b20)"/>
<path d="M12.6 40C13.17 36.95 14.1 31.22 16 27.4C17.9 23.58 20.95 19.38 24 17.1C27.05 14.82 31.07 14.45 34.3 13.7C37.53 12.95 40.35 12.4 43.4 12.6C46.45 12.8 49.93 13.57 52.6 14.9C55.27 16.23 57.88 18.32 59.4 20.6C60.92 22.88 61.88 25.55 61.7 28.6C61.52 31.65 59.82 35.85 58.3 38.9C56.78 41.95 54.7 44.62 52.6 46.9C50.5 49.18 48.37 51.08 45.7 52.6C43.03 54.12 39.83 55.62 36.6 56C33.37 56.38 29.55 55.85 26.3 54.9C23.05 53.95 19.38 51.83 17.1 50.3C14.82 48.77 13.35 47.42 12.6 45.7C11.85 43.98 12.03 43.05 12.6 40Z" fill="#d4421e" opacity="1" filter="url(#b09)"/>
<path d="M12.6 40C13.17 36.95 14.1 31.22 16 27.4C17.9 23.58 20.95 19.38 24 17.1C27.05 14.82 31.07 14.45 34.3 13.7C37.53 12.95 40.35 12.4 43.4 12.6C46.45 12.8 49.93 13.57 52.6 14.9C55.27 16.23 57.88 18.32 59.4 20.6C60.92 22.88 61.88 25.55 61.7 28.6C61.52 31.65 59.82 35.85 58.3 38.9C56.78 41.95 54.7 44.62 52.6 46.9C50.5 49.18 48.37 51.08 45.7 52.6C43.03 54.12 39.83 55.62 36.6 56C33.37 56.38 29.55 55.85 26.3 54.9C23.05 53.95 19.38 51.83 17.1 50.3C14.82 48.77 13.35 47.42 12.6 45.7C11.85 43.98 12.03 43.05 12.6 40Z" fill="none" stroke="#e0602a" stroke-width="1.5" opacity="0.8" filter="url(#b08)"/>
<ellipse cx="39" cy="25" rx="17.5" ry="10.5" fill="#54289a" opacity="1" filter="url(#b16)" transform="rotate(5 39 25)"/>
<ellipse cx="22" cy="43" rx="6" ry="6" fill="#e89a30" opacity="0.8" filter="url(#b20)"/>
</g>
</svg>
<svg x="438.6" y="1101.2" width="71.8" height="68.3" viewBox="0 0 72 68.5" preserveAspectRatio="none" overflow="hidden">
<rect width="72" height="68.5" fill="#000"/>
<g filter="url(#tex3)">
<ellipse cx="24" cy="2" rx="7" ry="5" fill="#16168a" opacity="0.8" filter="url(#b25)"/>
<ellipse cx="59" cy="6" rx="9" ry="5" fill="#16168a" opacity="0.8" filter="url(#b25)"/>
<path d="M10.3 36.6C10.3 33.55 11.67 29.17 13.1 26.3C14.53 23.43 16.42 21.12 18.9 19.4C21.38 17.68 24.58 16.57 28 16C31.42 15.43 35.58 15.82 39.4 16C43.22 16.18 47.47 16.33 50.9 17.1C54.33 17.87 57.63 18.68 60 20.6C62.37 22.52 64.33 25.75 65.1 28.6C65.87 31.45 65.45 34.65 64.6 37.7C63.75 40.75 62.1 44.03 60 46.9C57.9 49.77 55.05 53 52 54.9C48.95 56.8 45.13 57.93 41.7 58.3C38.27 58.67 35.02 58.25 31.4 57.1C27.78 55.95 23.05 53.48 20 51.4C16.95 49.32 14.72 47.07 13.1 44.6C11.48 42.13 10.3 39.65 10.3 36.6Z" fill="#2a842a" opacity="1" filter="url(#b09)"/>
<ellipse cx="35" cy="32" rx="15" ry="15" fill="#30448e" opacity="1" filter="url(#b18)"/>
<ellipse cx="50" cy="43" rx="9" ry="11" fill="#c8d23a" opacity="1" filter="url(#b20)" transform="rotate(-15 50 43)"/>
<g fill="#9a4a22" filter="url(#b11)"><circle cx="18.2" cy="35.6" r="1.27"/><circle cx="53.8" cy="35.2" r="1.15"/><circle cx="30.7" cy="52.1" r="1.18"/><circle cx="51.7" cy="34.4" r="0.92"/><circle cx="30.9" cy="20" r="1.16"/><circle cx="37.5" cy="48.7" r="1.22"/><circle cx="31" cy="18.1" r="0.84"/><circle cx="38.9" cy="20.4" r="1.4"/><circle cx="42.3" cy="55.5" r="1.28"/><circle cx="15.5" cy="42.3" r="1.35"/><circle cx="59.6" cy="30" r="1.17"/><circle cx="48.7" cy="23.1" r="1.39"/><circle cx="20.5" cy="41.6" r="1.48"/><circle cx="40.5" cy="20.8" r="1.15"/></g>
<ellipse cx="42" cy="56" rx="5" ry="2.5" fill="#c07020" opacity="0.8" filter="url(#b12)"/>
</g>
</svg>
<svg x="514.2" y="1101.2" width="71.5" height="68.3" viewBox="0 0 72 68.5" preserveAspectRatio="none" overflow="hidden">
<rect width="72" height="68.5" fill="#000"/>
<g filter="url(#tex0)">
<ellipse cx="2" cy="3" rx="6" ry="5" fill="#16168a" opacity="0.8" filter="url(#b25)"/>
<ellipse cx="66" cy="3" rx="8" ry="5" fill="#16168a" opacity="0.8" filter="url(#b25)"/>
<ellipse cx="69" cy="60" rx="5" ry="9" fill="#16168a" opacity="0.8" filter="url(#b25)"/>
<path d="M8 30.9C8.47 28.42 9.88 24.37 11.4 21.7C12.92 19.03 14.43 16.8 17.1 14.9C19.77 13 23.77 10.88 27.4 10.3C31.03 9.72 35.28 10.63 38.9 11.4C42.52 12.17 46.07 13.37 49.1 14.9C52.13 16.43 55.18 18.32 57.1 20.6C59.02 22.88 60.4 25.75 60.6 28.6C60.8 31.45 60.02 35.03 58.3 37.7C56.58 40.37 53.35 42.7 50.3 44.6C47.25 46.5 43.62 48.15 40 49.1C36.38 50.05 32.03 50.48 28.6 50.3C25.17 50.12 22.07 49.33 19.4 48C16.73 46.67 14.4 44.2 12.6 42.3C10.8 40.4 9.37 38.5 8.6 36.6C7.83 34.7 7.53 33.38 8 30.9Z" fill="#bcec34" opacity="1" filter="url(#b07)"/>
<g fill="#6a9a1a" filter="url(#b06)"><circle cx="50" cy="23.3" r="0.72"/><circle cx="40.2" cy="16.1" r="0.92"/><circle cx="36.1" cy="18.5" r="0.7"/><circle cx="37.5" cy="27.8" r="0.95"/><circle cx="47.1" cy="44.3" r="0.65"/><circle cx="49.1" cy="31.8" r="0.65"/><circle cx="37" cy="15.2" r="1.07"/><circle cx="57.8" cy="31.5" r="0.71"/><circle cx="48.4" cy="25.7" r="1.07"/><circle cx="47.5" cy="33.3" r="0.63"/><circle cx="45.5" cy="34.3" r="0.84"/><circle cx="39.1" cy="13.1" r="0.61"/><circle cx="54.2" cy="30.7" r="0.94"/><circle cx="49" cy="16.9" r="1.08"/><circle cx="48.4" cy="18.1" r="1.01"/><circle cx="53.1" cy="23.2" r="1.06"/><circle cx="49.1" cy="31.3" r="0.85"/><circle cx="37.6" cy="38.6" r="0.75"/></g>
<path d="M14.9 19.4C17.38 16.73 23.63 14.45 26.3 13.7C28.97 12.95 29.77 12.8 30.9 14.9C32.03 17 31.97 22.5 33.1 26.3C34.23 30.1 36.93 34.47 37.7 37.7C38.47 40.93 39.22 43.98 37.7 45.7C36.18 47.42 31.45 48 28.6 48C25.75 48 23.08 47.22 20.6 45.7C18.12 44.18 15.23 41.57 13.7 38.9C12.17 36.23 11.2 32.95 11.4 29.7C11.6 26.45 12.42 22.07 14.9 19.4Z" fill="#2a2a98" opacity="1" filter="url(#b09)"/>
<ellipse cx="14" cy="30" rx="3.5" ry="6.5" fill="#b05a20" opacity="0.9" filter="url(#b12)"/>
<ellipse cx="9.5" cy="32" rx="1.8" ry="3.4" fill="#d8f040" opacity="1" filter="url(#b06)"/>
<ellipse cx="17" cy="42.5" rx="3.2" ry="3.4" fill="#d8f040" opacity="1" filter="url(#b06)"/>
</g>
</svg>
<text x="98.91" y="941.7" font-size="12.2" font-weight="bold" fill="#ffffff" textLength="24.7" lengthAdjust="spacingAndGlyphs">GFP</text>
<text x="98.91" y="1092.1" font-size="12.2" font-weight="bold" fill="#ffffff" textLength="24.7" lengthAdjust="spacingAndGlyphs">GFP</text>
<text x="98.17" y="1013.4" font-size="13" font-weight="bold" fill="#ffffff" textLength="41.01" lengthAdjust="spacingAndGlyphs">Merge</text>
<text x="98.17" y="1164.9" font-size="13" font-weight="bold" fill="#ffffff" textLength="41.01" lengthAdjust="spacingAndGlyphs">Merge</text>
<path d="M290.2 1010.8H309.4" stroke="#fff" stroke-width="2.6"/>
<path d="M290.2 1162.3H309.4" stroke="#fff" stroke-width="2.6"/>
<text x="366.21" y="941.7" font-size="12.2" font-weight="bold" fill="#ffffff" textLength="24.7" lengthAdjust="spacingAndGlyphs">GFP</text>
<text x="366.21" y="1092.1" font-size="12.2" font-weight="bold" fill="#ffffff" textLength="24.7" lengthAdjust="spacingAndGlyphs">GFP</text>
<text x="365.47" y="1013.4" font-size="13" font-weight="bold" fill="#ffffff" textLength="41.01" lengthAdjust="spacingAndGlyphs">Merge</text>
<text x="365.47" y="1164.9" font-size="13" font-weight="bold" fill="#ffffff" textLength="41.01" lengthAdjust="spacingAndGlyphs">Merge</text>
<path d="M558.9 1010.8H578.1" stroke="#fff" stroke-width="2.6"/>
<path d="M558.9 1162.3H578.1" stroke="#fff" stroke-width="2.6"/>
</svg>
</body></html>
